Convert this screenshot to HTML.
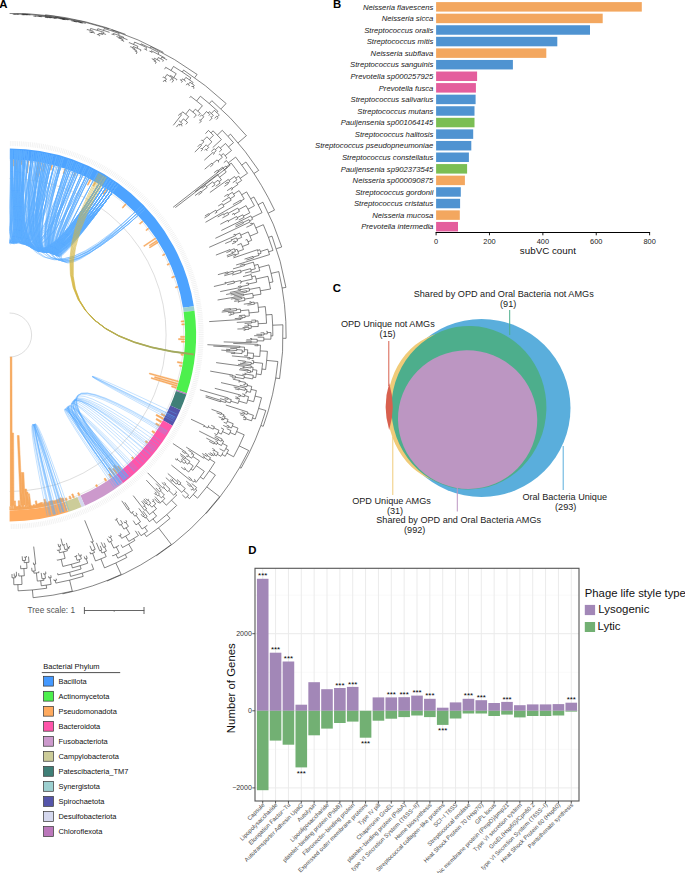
<!DOCTYPE html>
<html><head><meta charset="utf-8"><style>html,body{margin:0;padding:0;background:#fff;}svg{display:block;}</style></head><body><svg width="685" height="873" viewBox="0 0 685 873" font-family='"Liberation Sans", sans-serif'>
<defs><clipPath id="clipA"><rect x="9.6" y="0" width="330" height="620"/></clipPath></defs>
<rect width="685" height="873" fill="#fff"/>
<g clip-path="url(#clipA)">
<path d="M22.2 14.0L22.2 14.3M16.4 14.1L16.4 14.3M14.2 14.2L14.2 14.3M12.8 14.3L12.8 14.3M15.7 14.3L15.7 14.3M18.7 14.3L18.7 14.4M27.9 14.5L27.9 14.7M25.3 14.6L25.3 14.6M23.1 14.5L23.1 14.8M21.6 14.7L21.6 14.7M24.5 14.8L24.5 14.9M27.5 14.8L27.5 14.8M30.4 14.9L30.4 14.9M68.5 19.2L68.5 19.5M55.1 17.3L55.1 17.6M44.9 16.3L44.9 16.7M37.8 16.0L37.7 16.2M34.8 16.0L34.8 16.2M33.3 16.1L33.3 16.1M36.2 16.3L36.2 16.3M40.7 16.5L40.6 16.6M39.2 16.5L39.2 16.5M42.1 16.7L42.1 16.8M52.0 17.5L52.0 17.7M48.7 17.3L48.7 17.6M46.5 17.3L46.5 17.5M45.0 17.4L45.0 17.5M47.9 17.7L47.9 17.7M50.9 17.8L50.9 18.0M55.3 18.2L55.3 18.3M53.8 18.1L53.8 18.2M56.7 18.6L56.7 18.6M65.2 19.2L65.2 19.3M61.9 18.7L61.9 19.0M59.7 18.7L59.7 18.7M64.0 19.4L64.0 19.5M62.6 19.2L62.6 19.2M65.5 19.7L65.5 19.7M68.4 19.9L68.4 19.9M81.7 22.2L81.7 22.4M77.5 21.5L77.5 21.8M73.5 20.9L73.4 21.2M71.3 20.8L71.3 20.8M75.6 21.6L75.6 21.7M74.1 21.4L74.1 21.4M77.0 22.0L77.0 22.0M81.4 22.6L81.4 22.8M79.9 22.5L79.9 22.6M82.8 23.2L82.8 23.2M85.8 23.4L85.8 23.4M104.2 28.5L103.6 30.5M97.8 28.7L97.3 30.4M90.6 28.5L90.2 30.3M87.2 29.5L87.0 30.1M93.2 31.1L92.8 32.4M90.8 31.9L90.7 32.3M89.4 31.9L89.4 32.0M92.0 32.6L91.9 33.0M94.8 33.0L94.7 33.4M103.9 32.3L103.5 33.6M101.2 32.9L100.9 34.0M98.9 33.4L98.5 34.9M97.2 34.5L97.1 34.9M99.8 35.3L99.5 36.2M102.9 34.6L102.8 34.9M105.8 34.4L105.8 34.6M109.4 32.3L109.3 32.5M119.2 33.6L118.6 35.3M113.4 33.5L113.1 34.4M111.8 34.0L111.7 34.3M114.4 34.9L114.3 35.1M123.7 37.2L123.4 38.1M119.3 36.6L119.0 37.4M116.7 36.6L116.6 37.0M121.3 38.3L121.1 38.9M119.1 38.1L118.9 38.6M123.0 39.6L122.6 40.6M121.3 40.1L121.2 40.3M123.9 41.1L123.7 41.6M127.4 39.7L127.4 39.8M141.1 43.8L140.7 44.8M134.6 42.1L133.6 44.5M129.2 42.6L129.0 43.1M137.9 46.4L137.1 48.2M133.2 46.5L132.7 47.6M130.5 46.7L130.3 47.2M134.9 48.6L134.5 49.5M132.6 48.7L132.5 48.9M136.4 50.3L135.9 51.3M134.7 50.8L134.6 50.9M137.1 51.9L136.2 54.0M141.0 49.9L140.4 51.3M146.7 47.6L145.8 49.5M144.5 48.9L144.3 49.3M147.0 50.1L146.8 50.5M159.0 52.5L158.1 54.2M151.3 50.8L150.9 51.7M149.6 51.1L149.4 51.4M152.1 52.3L151.9 52.8M164.7 57.8L164.4 58.4M161.9 57.0L160.9 58.9M158.3 57.5L157.2 59.7M154.4 58.2L153.7 59.7M151.9 58.7L151.8 58.9M155.5 60.6L155.1 61.4M153.9 60.8L153.7 61.1M156.2 62.1L155.4 63.7M159.9 61.1L159.8 61.3M163.4 60.3L162.7 61.7M166.9 59.8L166.7 60.1M173.5 66.4L171.0 70.5M165.7 67.3L164.6 69.2M176.2 73.7L173.8 77.6M170.6 75.5L170.0 76.4M166.9 74.5L164.8 77.9M163.2 76.9L162.8 77.5M166.5 78.9L165.2 81.0M164.1 80.4L163.2 81.9M166.3 81.7L166.2 81.9M173.1 78.3L172.5 79.3M171.4 78.6L170.2 80.5M173.6 80.0L172.0 82.5M177.0 79.6L176.6 80.3M190.9 77.9L189.5 79.9M185.8 77.4L184.0 80.0M182.4 78.9L181.3 80.5M180.2 79.7L180.0 80.0M182.4 81.2L181.4 82.6M185.7 81.2L185.5 81.4M193.1 82.5L192.1 83.8M189.9 82.2L188.3 84.4M187.3 83.6L186.2 85.2M189.4 85.2L188.8 86.1M194.3 85.4L193.1 87.0M192.1 86.2L191.4 87.0M194.2 87.8L193.5 88.7M200.4 96.2L196.6 101.0M190.7 96.4L189.6 97.8M202.4 105.7L197.8 111.2M195.3 109.2L192.9 112.1M189.5 109.3L185.7 114.2M182.6 111.8L180.7 114.2M180.0 113.6L178.4 115.7M181.5 114.8L173.3 125.3M188.7 116.7L185.5 120.6M183.4 118.9L180.7 122.2M179.1 120.9L179.0 121.0M182.3 123.5L181.2 124.9M180.1 124.0L179.3 125.0M178.6 124.4L176.4 127.1M180.1 125.5L179.9 125.7M182.2 125.8L181.9 126.2M187.6 122.3L185.8 124.4M196.3 114.9L193.9 117.8M200.3 113.3L198.2 115.7M217.9 111.3L216.8 112.6M214.3 110.3L211.3 113.5M209.4 111.7L208.2 113.0M206.5 111.5L202.7 115.8M201.5 114.9L200.0 116.6M203.8 116.8L200.7 120.3M200.0 119.6L199.2 120.4M201.4 120.9L199.4 123.2M209.8 114.6L208.8 115.7M213.3 115.3L211.4 117.3M210.7 116.6L210.4 116.9M212.2 118.0L209.5 120.8M219.3 114.9L217.3 116.9M216.6 116.2L214.7 118.3M218.1 117.7L216.2 119.6M222.3 130.3L217.3 135.1M213.1 130.8L211.0 132.9M208.5 130.4L205.4 133.7M213.5 135.4L209.4 139.3M206.9 136.8L202.9 140.9M201.9 139.9L201.1 140.7M203.8 141.9L200.7 145.0M200.1 144.3L197.7 146.8M201.4 145.6L194.8 152.1M211.9 141.9L207.5 146.1M206.2 144.8L202.0 148.9M201.3 148.2L200.5 149.0M202.6 149.5L200.9 151.2M208.7 147.5L206.3 149.7M205.7 149.1L204.5 150.2M207.0 150.4L206.4 151.0M221.4 139.6L212.7 147.6M233.5 142.7L228.5 146.9M225.5 143.5L220.3 148.1M218.8 146.5L215.3 149.7M214.3 148.7L211.2 151.5M216.2 150.8L213.7 153.0M213.0 152.4L204.3 160.2M214.3 153.7L213.3 154.6M221.7 149.7L219.2 151.9M231.5 150.5L225.1 155.7M223.4 153.6L221.0 155.6M219.6 154.0L218.8 154.7M222.4 157.3L218.0 160.9M217.1 159.9L212.4 163.8M211.9 163.1L204.7 169.2M213.0 164.5L210.3 166.8M218.9 162.0L218.4 162.4M226.9 157.8L225.7 158.8M235.6 157.1L228.3 162.9M226.4 160.6L223.8 162.7M230.1 165.2L224.4 169.6M222.5 167.2L218.0 170.7M217.4 170.1L214.1 172.7M218.5 171.4L216.7 172.8M226.2 172.1L219.5 177.2M217.4 174.5L194.9 191.8M221.5 179.9L219.1 181.6M218.0 180.2L213.9 183.3M212.7 181.8L206.5 186.5M205.8 185.5L201.7 188.6M207.2 187.4L201.4 191.8M200.9 191.2L195.0 195.6M201.8 192.4L198.5 194.9M215.0 184.8L211.8 187.0M220.1 183.1L215.7 186.3M247.5 173.3L240.2 178.3M238.7 176.2L235.8 178.2M234.6 176.5L229.0 180.5M228.3 179.4L209.9 192.5M229.8 181.5L227.8 183.0M227.3 182.2L225.1 183.8M228.3 183.7L224.4 186.3M236.9 179.9L232.8 182.7M241.6 180.5L237.1 183.5M236.3 182.4L235.8 182.8M237.8 184.6L232.3 188.3M231.8 187.6L227.1 190.7M232.8 189.0L230.9 190.2M253.9 197.0L250.6 198.8M246.6 191.9L241.7 194.8M239.1 190.6L233.5 194.1M232.4 192.3L228.1 195.1M227.6 194.4L224.3 196.5M228.5 195.8L227.3 196.5M234.7 196.0L230.2 198.7M229.3 197.2L222.2 201.7M231.2 200.2L223.1 205.1M222.2 203.6L218.2 206.0M224.0 206.6L216.4 211.2M215.8 210.2L209.0 214.3M208.6 213.7L204.9 216.0M209.4 214.9L204.5 217.9M217.0 212.2L214.9 213.4M244.2 199.1L240.8 201.0M240.4 200.3L232.9 204.6M241.3 201.7L205.5 222.3M254.4 205.8L248.0 209.2M246.1 205.6L238.6 209.7M237.7 208.1L228.1 213.4M227.5 212.4L223.8 214.5M223.4 213.8L217.7 217.0M224.2 215.2L223.9 215.3M228.7 214.5L222.4 217.9M239.5 211.3L234.4 214.1M234.0 213.4L232.0 214.5M234.7 214.8L234.2 215.1M249.8 212.8L243.4 216.1M242.8 214.8L237.3 217.6M236.7 216.5L228.2 221.0M227.8 220.3L220.3 224.3M228.6 221.7L227.9 222.0M237.9 218.7L235.5 219.9M244.1 217.4L238.8 220.0M262.1 212.6L251.8 217.6M250.9 215.9L221.3 230.5M252.6 219.3L249.6 220.8M249.1 219.6L243.0 222.5M242.6 221.8L235.4 225.3M243.3 223.3L235.5 227.0M250.1 221.9L215.4 238.3M263.3 224.7L255.8 227.9M253.6 223.1L251.9 223.9M251.6 223.1L250.1 223.8M252.3 224.6L246.4 227.3M257.9 232.8L250.0 236.1M248.2 231.9L240.7 235.2M239.8 233.0L235.4 234.9M235.0 234.2L233.4 234.9M235.7 235.6L209.2 247.3M241.7 237.4L237.0 239.3M236.4 237.9L231.6 239.9M231.3 239.2L231.1 239.3M231.9 240.7L225.2 243.5M237.6 240.8L235.2 241.8M234.9 241.0L233.0 241.8M235.5 242.5L232.0 243.9M251.7 240.3L248.0 241.8M247.1 239.5L245.5 240.1M248.9 244.0L242.4 246.5M241.2 243.5L237.3 245.1M243.5 249.5L237.9 251.5M237.1 249.3L234.9 250.2M234.3 248.7L230.3 250.3M230.0 249.6L215.9 255.1M230.6 251.0L226.4 252.6M235.4 251.6L232.8 252.5M232.6 251.8L231.3 252.3M233.1 253.2L226.8 255.6M238.7 253.7L235.4 254.8M235.1 254.1L227.1 257.0M235.6 255.6L233.3 256.4M273.0 250.4L268.6 251.9M267.7 249.1L260.5 251.5M259.9 249.7L257.7 250.4M257.5 249.7L233.4 257.9M258.0 251.2L257.5 251.4M261.0 253.3L258.7 254.1M258.3 252.9L257.6 253.1M259.0 255.3L253.2 257.1M253.0 256.4L244.5 259.1M253.5 257.9L246.4 260.1M269.5 254.6L236.1 265.0M268.9 264.9L258.9 267.6M258.0 264.4L254.3 265.4M253.4 262.1L244.4 264.8M244.2 264.0L239.9 265.4M244.6 265.5L233.0 268.9M255.3 268.8L250.9 270.0M250.6 268.6L240.8 271.3M240.4 270.1L233.1 272.2M232.8 271.2L227.9 272.6M227.7 271.9L217.9 274.7M228.1 273.2L224.5 274.2M233.4 273.2L224.3 275.7M241.1 272.5L232.1 275.0M251.3 271.4L245.0 273.0M259.8 270.8L250.7 273.1M273.0 281.9L269.3 282.7M268.0 276.3L256.0 279.0M255.3 275.9L251.8 276.8M251.2 274.5L243.0 276.6M252.3 279.1L240.9 281.7M240.6 280.5L234.2 282.0M234.0 281.0L225.9 282.9M225.7 282.3L224.6 282.6M226.0 283.6L213.9 286.5M234.4 283.0L227.1 284.7M241.2 282.9L239.9 283.2M256.7 282.2L248.3 284.0M248.1 282.9L245.9 283.4M248.6 285.0L241.2 286.6M241.0 285.9L237.9 286.6M241.3 287.3L220.2 291.6M270.5 289.0L260.4 290.8M259.8 287.4L249.3 289.4M249.0 288.0L240.4 289.7M240.3 289.0L237.8 289.5M240.5 290.4L229.9 292.4M249.6 290.9L246.7 291.4M246.5 290.7L226.1 294.5M246.8 292.1L230.7 295.0M261.0 294.2L253.0 295.5M252.6 293.3L243.6 294.9M243.5 294.2L233.7 295.9M243.7 295.6L217.6 300.0M253.3 297.7L244.7 299.1M244.4 297.6L241.5 298.1M241.4 297.4L230.9 299.1M241.6 298.8L234.6 299.9M244.9 300.5L238.9 301.4M238.8 300.7L234.2 301.4M239.0 302.0L237.9 302.2M272.0 314.5L266.0 314.9M265.3 306.6L258.3 307.4M257.7 302.7L254.3 303.2M254.1 302.1L251.1 302.5M251.0 301.8L249.2 302.0M251.2 303.2L243.8 304.2M254.4 304.2L247.4 305.1M258.7 312.0L249.1 312.9M248.8 309.9L240.5 310.7M240.3 309.1L236.5 309.5M236.4 308.5L230.4 309.2M230.3 308.6L224.1 309.3M230.5 309.8L222.5 310.7M236.6 310.5L221.7 312.1M240.7 312.4L233.8 313.1M233.7 312.1L227.9 312.7M233.9 314.1L231.1 314.3M231.0 313.7L230.5 313.7M231.1 315.0L228.8 315.2M249.3 316.0L245.1 316.3M245.0 315.1L239.0 315.6M245.1 317.5L242.1 317.7M242.0 316.7L238.6 317.0M242.1 318.7L240.5 318.9M240.5 318.2L234.8 318.6M240.5 319.5L209.2 321.6M266.6 323.3L258.2 323.7M258.0 320.9L255.7 321.0M255.6 320.0L251.3 320.2M255.7 322.1L251.6 322.3M251.6 321.6L236.8 322.4M251.7 323.0L244.6 323.4M258.3 326.5L251.2 326.7M251.1 325.2L248.6 325.3M248.6 324.6L247.4 324.6M248.6 326.0L244.3 326.1M251.2 328.3L248.9 328.4M248.8 327.3L242.6 327.5M248.9 329.4L245.2 329.5M245.2 328.8L237.4 329.0M245.2 330.2L243.6 330.2M272.9 335.9L270.9 335.9M270.9 332.5L267.3 332.6M267.2 331.3L266.4 331.3M267.3 333.9L264.0 333.9M264.0 332.8L260.6 332.8M264.0 335.0L261.4 335.0M261.4 334.3L256.4 334.3M261.4 335.7L254.1 335.7M270.9 339.2L263.8 339.1M263.8 337.2L257.7 337.2M263.8 340.9L257.2 340.8M257.2 339.3L251.6 339.2M251.6 338.5L250.1 338.5M251.6 339.9L246.4 339.8M257.2 342.2L251.2 342.0M251.2 341.3L245.8 341.2M251.2 342.7L223.7 341.9M267.4 351.3L260.2 350.9M260.5 345.2L257.9 345.1M257.9 344.4L233.2 343.4M257.9 345.8L254.5 345.6M259.7 356.5L253.4 356.0M253.6 353.3L247.5 352.9M247.7 349.8L244.4 349.6M244.5 347.2L239.9 346.9M239.9 346.3L207.4 344.7M239.8 347.6L213.3 346.1M244.2 351.9L242.1 351.8M242.3 350.0L236.8 349.6M236.9 348.7L230.2 348.3M236.8 350.6L229.7 350.1M229.7 349.5L226.1 349.3M229.6 350.7L221.3 350.1M242.0 353.6L234.6 353.0M234.7 352.4L226.1 351.7M234.6 353.6L230.9 353.3M247.3 356.0L244.2 355.7M253.1 358.6L250.0 358.3M250.1 357.6L231.9 355.9M250.0 359.0L247.2 358.7M265.6 369.5L261.9 369.0M262.6 363.3L253.5 362.3M253.7 360.7L251.7 360.5M253.4 363.8L251.2 363.6M251.3 362.5L245.3 361.9M245.4 361.2L237.8 360.3M245.2 362.5L242.5 362.2M251.1 364.6L239.9 363.2M261.1 374.7L256.3 373.9M256.9 370.2L252.8 369.6M253.1 367.3L251.2 367.0M251.3 366.0L238.0 364.3M251.0 368.0L244.0 367.1M244.1 366.4L216.1 362.6M244.0 367.7L242.5 367.5M252.4 372.0L250.4 371.7M250.6 370.7L248.1 370.3M248.2 369.7L240.1 368.5M248.0 371.0L239.1 369.7M250.3 372.7L246.6 372.2M255.7 377.6L253.0 377.1M253.3 375.3L245.8 374.1M245.9 373.4L244.4 373.2M245.7 374.7L242.3 374.2M252.6 378.9L244.1 377.4M244.4 375.9L235.7 374.4M243.8 378.8L235.4 377.2M235.6 376.3L232.7 375.8M232.8 375.1L210.2 371.1M232.5 376.4L229.5 375.8M235.2 378.2L231.9 377.6M261.5 397.7L255.1 396.1M256.4 390.6L251.1 389.4M251.7 386.4L247.2 385.4M247.5 384.1L245.2 383.6M245.4 382.4L239.8 381.3M239.9 380.6L232.9 379.2M239.6 382.1L238.3 381.8M244.9 384.8L243.4 384.4M247.0 386.8L239.8 385.3M250.4 392.3L246.7 391.4M247.1 389.7L245.2 389.3M245.5 388.1L221.0 382.6M244.9 390.4L239.1 389.0M239.2 388.3L233.7 387.0M238.9 389.8L234.9 388.8M246.2 393.2L245.1 392.9M253.6 401.7L247.7 400.0M248.6 396.7L244.6 395.6M244.9 394.5L242.2 393.8M244.3 396.8L240.3 395.7M240.5 395.0L214.8 388.3M240.1 396.5L238.0 395.9M246.7 403.4L238.8 401.1M239.4 398.7L237.8 398.3M238.0 397.5L235.4 396.8M237.5 399.0L235.4 398.4M238.1 403.4L230.8 401.2M231.3 399.6L227.9 398.6M228.1 397.9L199.9 389.8M227.7 399.4L224.5 398.4M230.3 402.9L225.8 401.5M226.1 400.4L220.1 398.6M225.5 402.5L220.7 401.1M220.9 400.4L205.7 395.6M220.5 401.8L205.6 397.0M255.3 419.0L252.5 418.0M253.4 415.3L247.5 413.3M247.9 412.1L225.8 405.0M247.1 414.5L244.4 413.6M244.6 412.8L241.7 411.8M244.1 414.3L239.5 412.8M251.5 420.8L245.7 418.8M246.1 417.6L244.4 417.0M244.6 416.2L240.3 414.7M244.1 417.8L243.4 417.5M245.3 419.9L243.2 419.2M244.2 434.8L236.6 431.5M238.0 428.2L232.3 425.9M233.2 423.7L227.3 421.4M228.1 419.4L224.5 418.1M225.2 416.4L223.5 415.8M223.9 414.7L221.4 413.7M221.7 413.0L211.5 409.3M221.2 414.5L216.6 412.8M223.1 416.9L222.5 416.7M223.9 419.7L222.8 419.3M223.1 418.6L218.6 416.8M222.5 420.0L221.0 419.4M226.5 423.4L223.7 422.2M231.4 428.0L228.8 426.9M229.1 426.1L226.6 425.1M228.4 427.6L223.2 425.4M235.2 434.8L230.0 432.5M230.9 430.5L226.8 428.7M229.1 434.6L222.5 431.6M223.6 429.1L221.0 427.9M221.3 434.1L218.0 432.5M219.0 430.3L213.9 427.9M214.4 426.7L211.2 425.3M213.3 429.2L208.3 426.8M208.7 425.8L208.2 425.6M207.8 427.9L204.3 426.2M204.6 425.6L191.0 419.2M204.0 426.9L203.4 426.6M216.9 434.8L214.4 433.5M233.6 456.8L226.9 453.2M228.6 450.0L225.8 448.6M227.2 445.8L222.5 443.4M223.6 441.2L221.7 440.2M222.2 439.1L214.9 435.5M221.2 441.3L218.2 439.8M218.5 439.1L214.5 437.1M217.8 440.5L199.2 431.1M221.4 445.5L217.1 443.3M217.7 442.3L215.4 441.1M216.6 444.4L214.5 443.3M214.8 442.6L206.3 438.1M214.1 444.0L209.2 441.4M224.3 451.3L219.6 448.8M225.2 456.3L222.0 454.4M223.0 452.5L222.7 452.4M220.9 456.3L217.3 454.3M218.2 452.7L214.0 450.3M214.4 449.6L212.3 448.4M213.6 451.0L212.6 450.5M216.4 455.9L214.3 454.7M214.9 453.6L213.1 452.6M213.7 455.7L212.4 455.0M212.8 454.3L209.9 452.6M212.0 455.7L208.4 453.5M215.4 475.0L209.3 470.8M214.9 462.3L209.7 459.1M210.6 457.7L207.2 455.6M207.6 454.9L205.0 453.3M206.8 456.3L202.2 453.5M208.8 460.5L204.1 457.5M204.5 456.8L202.9 455.8M203.7 458.2L186.2 447.1M203.4 479.2L200.3 476.9M204.3 471.3L196.3 465.7M199.5 460.9L192.8 456.5M193.9 454.7L192.2 453.6M192.6 452.9L188.4 450.2M191.8 454.2L191.1 453.7M191.6 458.2L188.0 455.8M188.6 454.8L185.6 452.8M186.0 452.2L172.9 443.5M185.2 453.5L181.9 451.2M187.4 456.7L186.1 455.9M192.9 470.3L191.0 468.9M193.2 465.9L188.9 462.7M189.9 461.3L185.2 458.0M185.6 457.4L180.1 453.5M184.8 458.6L180.6 455.6M187.8 464.2L185.2 462.3M185.9 461.2L181.9 458.3M184.4 463.4L181.7 461.4M182.3 460.5L180.9 459.4M181.0 462.3L177.2 459.5M177.7 458.9L176.9 458.4M176.8 460.1L175.0 458.7M188.7 472.0L184.9 469.0M185.3 468.4L184.2 467.5M184.4 469.6L181.2 467.2M196.2 482.3L194.6 481.1M195.4 480.2L194.2 479.2M193.9 482.1L190.9 479.8M191.4 479.1L188.5 476.8M190.4 480.4L171.4 465.1M197.5 498.2L193.2 494.4M196.8 490.2L195.4 489.0M196.6 487.5L191.7 483.5M194.2 490.5L192.7 489.2M193.5 488.2L190.7 485.9M191.2 485.3L186.2 481.1M190.2 486.5L187.2 484.0M191.9 490.1L190.7 489.2M189.5 498.6L187.2 496.5M188.6 494.9L183.6 490.5M185.3 488.6L180.0 483.9M180.9 482.9L177.0 479.5M179.1 485.0L177.1 483.2M177.9 482.3L167.8 473.5M176.4 484.1L172.6 480.7M173.1 480.1L171.6 478.9M172.1 481.3L170.1 479.5M181.9 492.4L165.8 477.6M185.7 498.1L182.3 494.9M170.0 518.3L166.8 514.6M176.7 505.4L171.5 500.2M176.7 495.0L175.2 493.6M176.7 492.0L175.6 491.0M173.7 495.2L168.8 490.4M170.0 489.2L165.2 484.6M165.7 484.0L163.8 482.1M164.6 485.2L161.8 482.5M167.6 491.6L163.7 487.7M164.3 487.2L163.4 486.3M163.1 488.3L147.6 472.8M166.3 505.2L162.3 500.9M164.8 498.6L162.9 496.5M164.4 495.0L160.4 490.9M161.3 490.0L159.7 488.4M160.3 487.9L156.1 483.6M159.1 489.0L159.0 488.9M159.5 491.8L155.8 487.9M161.3 497.9L158.6 495.0M159.5 494.2L146.3 480.1M157.7 495.9L155.8 493.8M156.4 493.3L155.0 491.8M155.2 494.4L154.3 493.4M159.8 503.3L158.8 502.1M159.4 501.6L155.0 496.6M158.1 502.7L154.5 498.6M156.4 523.2L153.0 518.9M156.6 516.1L153.0 511.7M156.5 508.8L153.8 505.5M155.7 503.9L153.2 500.9M153.8 500.4L152.7 499.1M152.6 501.5L152.1 500.9M151.8 507.2L149.4 504.3M150.7 503.2L147.9 499.8M148.5 499.3L148.3 499.0M147.3 500.3L145.7 498.5M148.1 505.3L146.6 503.4M147.3 502.9L143.9 498.9M146.0 504.0L143.1 500.4M149.5 514.5L145.7 509.7M146.7 508.9L144.4 505.9M145.0 505.4L141.6 501.2M143.7 506.5L143.2 505.8M144.7 510.4L133.2 495.6M149.4 521.7L146.1 517.3M147.2 516.5L143.0 511.1M145.1 518.1L143.7 516.3M144.4 515.7L138.8 508.3M143.0 516.8L141.0 514.1M146.4 536.6L144.3 533.5M147.5 531.3L144.7 527.2M147.2 525.5L147.1 525.3M142.1 529.0L138.3 523.3M140.5 521.8L136.0 515.4M137.2 514.5L135.9 512.7M134.8 516.2L132.2 512.5M133.3 511.8L132.7 511.0M131.2 513.2L128.5 509.2M129.2 508.8L124.8 502.4M127.8 509.7L121.8 500.8M136.0 524.9L133.2 520.6M141.0 535.7L138.1 531.2M126.8 557.5L125.2 554.5M132.4 550.5L128.7 544.1M134.8 540.5L133.6 538.5M138.4 535.6L135.3 530.8M128.8 541.4L125.7 536.1M129.7 533.7L126.1 527.8M128.4 526.4L125.9 522.4M126.8 521.8L125.8 520.1M124.9 523.0L124.0 521.5M123.9 529.1L121.2 524.5M122.6 523.6L120.5 520.1M119.7 525.3L116.4 519.6M117.3 519.1L116.6 517.9M115.4 520.2L115.2 519.7M121.7 538.3L120.1 535.5M121.2 535.0L120.4 533.5M119.1 536.1L118.7 535.4M122.5 547.5L121.0 544.7M117.8 558.2L116.0 554.4M119.2 552.8L116.3 546.9M118.7 545.7L118.5 545.3M113.8 548.1L110.6 541.5M112.2 540.7L110.4 537.1M111.4 536.6L110.7 535.3M109.3 537.6L108.7 536.4M109.0 542.3L107.2 538.7M112.7 555.9L112.4 555.2M104.5 567.9L100.9 558.9M106.2 556.6L104.2 552.0M106.4 551.1L104.6 546.9M105.7 546.5L104.0 542.8M103.5 547.4L101.2 542.3M101.9 553.0L100.8 550.3M101.9 549.9L100.2 545.8M99.7 550.8L96.4 542.8M95.5 561.0L92.6 553.2M94.5 552.5L93.5 550.0M95.2 549.3L92.2 541.9M93.3 541.5L84.7 520.3M91.2 542.3L90.8 541.3M91.9 550.6L90.0 545.8M90.6 554.0L89.9 552.0M83.2 576.4L82.2 573.2M93.6 569.4L91.6 563.7M70.6 576.4L69.6 572.2M81.1 569.0L80.1 565.7M87.7 563.2L86.2 558.7M87.2 558.4L86.3 555.6M85.1 559.1L84.2 556.5M72.4 567.9L71.4 564.3M79.9 561.8L79.2 559.6M81.4 558.9L80.4 555.7M81.4 555.4L81.1 554.4M79.3 556.1L78.4 553.3M77.0 560.3L75.9 556.3M76.9 556.0L76.7 555.1M74.8 556.6L74.6 556.1M62.8 566.4L61.2 559.3M65.1 558.4L63.5 551.8M67.4 550.8L67.0 549.1M69.0 548.5L68.7 547.3M69.7 547.0L69.5 546.1M67.7 547.6L66.4 542.9M64.9 549.6L63.7 544.9M64.7 544.6L64.6 544.2M62.6 545.1L61.0 538.6M59.5 552.8L58.9 550.1M60.5 549.7L59.7 546.3M60.7 546.1L60.3 544.3M58.7 546.6L58.1 543.9M57.4 550.4L57.2 549.8M57.2 560.2L57.1 559.7M57.9 574.9L57.6 573.2M55.8 583.1L55.3 580.4M56.5 580.2L56.2 578.7M54.1 580.7L53.9 579.3M46.7 588.3L46.2 585.1M51.1 584.3L50.1 577.7M51.2 577.6L50.8 575.2M48.9 577.9L48.6 576.2M41.3 585.8L40.7 580.7M44.0 580.3L43.7 578.6M45.5 578.3L44.8 574.0M45.9 573.8L45.6 571.6M43.7 574.2L43.6 573.2M42.0 578.8L41.2 572.9M37.3 581.1L36.4 572.9M38.9 572.6L38.8 571.3M33.9 573.2L33.7 571.0M35.3 570.8L34.6 564.3M35.7 564.1L33.7 546.6M33.5 564.4L33.4 562.6M32.0 571.2L31.7 567.8M18.1 590.8L17.9 584.6M22.0 584.4L21.6 575.9M24.3 575.8L23.9 568.5M27.0 568.3L26.6 562.5M29.0 562.3L28.5 556.6M24.2 562.6L24.1 560.4M25.6 560.3L25.4 557.2M26.5 557.1L26.4 556.0M24.4 557.2L24.3 556.9M22.5 560.5L22.2 556.3M20.7 568.7L20.6 565.5M18.8 576.0L18.7 573.2M13.8 584.7L13.7 577.8M15.4 577.7L15.4 576.2M16.5 576.2L16.4 571.8M14.3 576.2L14.2 573.5M12.0 577.8L12.0 574.0M72.3 591.2L69.6 580.1M33.1 597.7L32.4 589.9M121.2 574.5L115.8 563.0M62.7 593.8L62.6 593.4M171.3 544.5L158.5 527.8M107.2 581.0L107.0 580.6M219.6 496.7L206.8 486.9M156.5 555.6L156.3 555.3M248.7 450.5L239.2 445.9M206.0 513.6L205.7 513.4M265.8 410.5L258.6 408.4M241.1 468.2L239.7 467.4M277.9 361.5L266.7 360.4M263.2 426.3L260.9 425.5M282.9 324.8L272.7 325.2M279.6 378.6L275.7 378.0M278.8 271.6L271.1 273.4M286.1 338.3L283.1 338.3M272.0 236.1L268.5 237.4M285.9 287.4L282.1 288.0M262.9 202.2L258.1 204.7M281.7 247.0L276.4 248.7M245.9 162.0L241.7 165.1M274.5 210.1L268.3 213.1M230.5 134.1L228.0 136.4M258.7 170.4L253.9 173.5M211.8 100.7L209.3 103.6M246.4 135.7L238.1 142.8M183.6 70.1L182.3 72.0M226.1 103.5L221.0 108.9M150.7 46.7L150.1 48.0M197.1 74.4L194.7 77.7M112.1 30.0L111.7 30.9M163.1 52.2L162.8 52.9M45.5 14.8L45.4 15.8M125.3 34.3L125.2 34.7M225.9 166.0L173.1 207.3M227.2 167.7L175.3 207.6M231.2 163.1L226.5 166.8M12.75 14.27A320.74 320.74 0 0 1 15.70 14.31M14.23 14.23A320.80 320.80 0 0 1 18.65 14.33M21.59 14.70A320.52 320.52 0 0 1 24.54 14.83M23.07 14.55A320.73 320.73 0 0 1 27.49 14.77M25.29 14.57A320.82 320.82 0 0 1 30.44 14.86M16.45 14.09A320.99 320.99 0 0 1 27.88 14.53M33.31 16.07A319.81 319.81 0 0 1 36.24 16.30M39.18 16.46A319.91 319.91 0 0 1 42.11 16.74M34.80 15.95A320.04 320.04 0 0 1 40.66 16.47M45 17.36A319.61 319.61 0 0 1 47.92 17.70M46.49 17.30A319.83 319.83 0 0 1 50.87 17.84M53.80 18.14A319.93 319.93 0 0 1 56.71 18.56M48.71 17.32A320.08 320.08 0 0 1 55.27 18.19M37.75 15.95A320.29 320.29 0 0 1 52.02 17.53M62.57 19.21A320.21 320.21 0 0 1 65.47 19.71M59.67 18.66A320.28 320.28 0 0 1 64.03 19.38M61.90 18.75A320.55 320.55 0 0 1 68.43 19.90M44.93 16.33A320.62 320.62 0 0 1 65.18 19.23M74.14 21.38A320.19 320.19 0 0 1 77.02 21.99M71.26 20.75A320.24 320.24 0 0 1 75.59 21.63M79.92 22.52A320.30 320.30 0 0 1 82.79 23.18M73.48 20.92A320.51 320.51 0 0 1 81.41 22.64M77.51 21.46A320.82 320.82 0 0 1 85.78 23.36M55.13 17.28A320.96 320.96 0 0 1 81.69 22.24M22.17 14.05A321.20 321.20 0 0 1 68.50 19.25M89.39 31.94A313.39 313.39 0 0 1 92.03 32.64M90.81 31.91A313.78 313.78 0 0 1 94.77 33M87.18 29.55A315.15 315.15 0 0 1 93.16 31.13M97.19 34.48A313.02 313.02 0 0 1 99.81 35.26M98.95 33.37A314.59 314.59 0 0 1 102.89 34.56M101.23 32.94A315.65 315.65 0 0 1 105.83 34.38M90.65 28.51A317.02 317.02 0 0 1 103.94 32.34M97.79 28.71A318.73 318.73 0 0 1 109.41 32.30M111.79 33.96A317.91 317.91 0 0 1 114.41 34.86M121.32 40.11A315.34 315.34 0 0 1 123.89 41.10M119.12 38.13A316.42 316.42 0 0 1 123 39.59M116.73 36.62A317.03 317.03 0 0 1 121.27 38.29M119.32 36.58A317.95 317.95 0 0 1 127.42 39.68M113.42 33.48A318.89 318.89 0 0 1 123.72 37.22M104.22 28.52A320.75 320.75 0 0 1 119.22 33.56M134.65 50.80A310.50 310.50 0 0 1 137.13 51.90M132.62 48.67A311.64 311.64 0 0 1 136.35 50.31M130.50 46.68A312.64 312.64 0 0 1 134.89 48.56M133.19 46.47A313.89 313.89 0 0 1 141.01 49.94M129.21 42.63A315.89 315.89 0 0 1 137.93 46.35M144.54 48.88A316.35 316.35 0 0 1 147.03 50.07M134.59 42.11A318.45 318.45 0 0 1 146.70 47.57M149.62 51.06A316.59 316.59 0 0 1 152.10 52.29M153.86 60.81A309.82 309.82 0 0 1 156.25 62.08M151.89 58.72A310.77 310.77 0 0 1 155.50 60.61M154.45 58.22A312.39 312.39 0 0 1 159.86 61.12M158.31 57.51A314.83 314.83 0 0 1 163.43 60.31M161.90 57.04A316.95 316.95 0 0 1 166.88 59.82M151.32 50.76A317.61 317.61 0 0 1 164.72 57.84M141.11 43.80A319.52 319.52 0 0 1 158.95 52.53M164.12 80.36A297.85 297.85 0 0 1 166.33 81.72M163.15 76.90A300.32 300.32 0 0 1 166.52 78.93M171.38 78.60A303.17 303.17 0 0 1 173.61 80.02M166.91 74.47A304.34 304.34 0 0 1 173.12 78.32M170.56 75.53A305.34 305.34 0 0 1 177.01 79.65M165.71 67.31A309.88 309.88 0 0 1 176.24 73.74M180.16 79.73A307.01 307.01 0 0 1 182.39 81.23M182.35 78.88A308.94 308.94 0 0 1 185.69 81.16M187.25 83.63A307.81 307.81 0 0 1 189.44 85.19M192.06 86.16A308.57 308.57 0 0 1 194.23 87.76M189.93 82.19A310.54 310.54 0 0 1 194.31 85.37M185.85 77.36A312.16 312.16 0 0 1 193.08 82.46M173.48 66.42A314.64 314.64 0 0 1 190.91 77.86M179.98 113.62A279.35 279.35 0 0 1 181.48 114.79M178.63 124.39A270.05 270.05 0 0 1 180.06 125.54M180.10 124.03A271.25 271.25 0 0 1 182.24 125.78M179.09 120.86A273.10 273.10 0 0 1 182.34 123.47M183.37 118.86A277.33 277.33 0 0 1 187.56 122.29M182.59 111.80A282.39 282.39 0 0 1 188.68 116.65M189.53 109.34A288.61 288.61 0 0 1 196.29 114.90M195.35 109.16A292.41 292.41 0 0 1 200.26 113.29M190.69 96.38A299.56 299.56 0 0 1 202.41 105.75M199.96 119.63A287.44 287.44 0 0 1 201.41 120.93M201.53 114.85A292.07 292.07 0 0 1 203.77 116.82M206.45 111.52A297.81 297.81 0 0 1 209.84 114.55M210.69 116.61A296.87 296.87 0 0 1 212.17 117.98M209.35 111.69A299.61 299.61 0 0 1 213.30 115.28M216.59 116.24A301.16 301.16 0 0 1 218.07 117.65M214.27 110.25A303.98 303.98 0 0 1 219.27 114.91M200.42 96.23A305.65 305.65 0 0 1 217.93 111.34M200.08 144.34A269.51 269.51 0 0 1 201.37 145.63M201.87 139.91A273.91 273.91 0 0 1 203.85 141.88M201.35 148.21A267.69 267.69 0 0 1 202.61 149.51M205.71 149.08A270.23 270.23 0 0 1 206.97 150.42M206.18 144.79A273.54 273.54 0 0 1 208.75 147.48M206.93 136.80A279.68 279.68 0 0 1 211.91 141.89M208.48 130.45A285.30 285.30 0 0 1 213.45 135.40M213.05 130.83A288.23 288.23 0 0 1 221.45 139.55M213.04 152.35A273.40 273.40 0 0 1 214.28 153.74M214.32 148.69A276.81 276.81 0 0 1 216.20 150.78M218.82 146.53A281.59 281.59 0 0 1 221.67 149.74M211.87 163.09A265.45 265.45 0 0 1 213.03 164.47M217.11 159.85A271.54 271.54 0 0 1 218.88 161.97M219.62 154.04A277.23 277.23 0 0 1 222.36 157.27M223.36 153.64A280.33 280.33 0 0 1 226.86 157.84M225.48 143.49A288.58 288.58 0 0 1 231.46 150.46M222.29 130.34A295.16 295.16 0 0 1 233.49 142.66M217.43 170.06A265.33 265.33 0 0 1 218.50 171.42M200.90 191.17A239.34 239.34 0 0 1 201.84 192.43M205.75 185.51A246.63 246.63 0 0 1 207.21 187.44M212.73 181.75A254.45 254.45 0 0 1 214.97 184.76M218.01 180.17A259.63 259.63 0 0 1 220.14 183.08M217.41 174.46A262.60 262.60 0 0 1 221.48 179.87M222.47 167.19A271.07 271.07 0 0 1 226.23 172.06M226.45 160.57A278.29 278.29 0 0 1 230.09 165.20M227.26 182.24A265.92 265.92 0 0 1 228.25 183.67M228.28 179.38A268.40 268.40 0 0 1 229.80 181.53M234.62 176.52A275.23 275.23 0 0 1 236.93 179.85M231.80 187.58A266.65 266.65 0 0 1 232.76 189.04M236.35 182.42A273.31 273.31 0 0 1 237.84 184.65M238.69 176.17A278.76 278.76 0 0 1 241.64 180.51M235.64 157.08A287.66 287.66 0 0 1 247.54 173.33M227.62 194.40A259.43 259.43 0 0 1 228.51 195.78M208.63 213.68A233.09 233.09 0 0 1 209.40 214.95M215.80 210.21A241.02 241.02 0 0 1 216.98 212.18M222.16 203.58A249.90 249.90 0 0 1 224.01 206.63M229.31 197.22A259.34 259.34 0 0 1 231.15 200.20M232.39 192.32A264.56 264.56 0 0 1 234.68 195.96M240.41 200.27A267.26 267.26 0 0 1 241.26 201.74M239.12 190.63A271.15 271.15 0 0 1 244.21 199.05M223.39 213.82A245.75 245.75 0 0 1 224.16 215.18M227.52 212.39A250.04 250.04 0 0 1 228.67 214.47M233.98 213.40A255.21 255.21 0 0 1 234.74 214.83M237.72 208.08A261.05 261.05 0 0 1 239.51 211.35M227.83 220.29A246.54 246.54 0 0 1 228.56 221.68M236.73 216.53A256.17 256.17 0 0 1 237.85 218.70M242.77 214.79A262.33 262.33 0 0 1 244.09 217.39M246.06 205.64A269.53 269.53 0 0 1 249.85 212.83M246.57 191.88A276.84 276.84 0 0 1 254.44 205.81M242.63 221.80A259.07 259.07 0 0 1 243.35 223.28M249.06 219.62A265.80 265.80 0 0 1 250.14 221.90M250.93 215.87A269.13 269.13 0 0 1 252.61 219.33M253.85 196.95A280.56 280.56 0 0 1 262.06 212.61M251.57 223.10A266.59 266.59 0 0 1 252.28 224.64M235.04 234.20A246.95 246.95 0 0 1 235.67 235.63M231.27 239.24A241.47 241.47 0 0 1 231.87 240.65M234.93 241.04A244.13 244.13 0 0 1 235.52 242.47M236.40 237.88A246.72 246.72 0 0 1 237.62 240.76M239.75 232.97A251.75 251.75 0 0 1 241.65 237.37M230.02 249.59A236.39 236.39 0 0 1 230.55 250.99M232.58 251.83A237.99 237.99 0 0 1 233.11 253.25M234.34 248.73A240.73 240.73 0 0 1 235.41 251.59M235.14 254.12A239.60 239.60 0 0 1 235.65 255.56M237.10 249.32A243.10 243.10 0 0 1 238.69 253.67M241.23 243.55A249.03 249.03 0 0 1 243.48 249.45M247.09 239.49A255.98 255.98 0 0 1 248.86 244.03M248.22 231.92A259.93 259.93 0 0 1 251.67 240.31M253.64 223.08A268.48 268.48 0 0 1 257.89 232.85M257.46 249.65A262.14 262.14 0 0 1 258 251.23M252.97 256.35A255.76 255.76 0 0 1 253.46 257.90M258.28 252.89A261.88 261.88 0 0 1 259.05 255.26M259.86 249.72A264.39 264.39 0 0 1 261.05 253.30M267.72 249.09A272.04 272.04 0 0 1 269.50 254.64M263.31 224.68A276.66 276.66 0 0 1 273.02 250.45M244.21 264.05A245.11 245.11 0 0 1 244.64 265.46M227.69 271.91A227.03 227.03 0 0 1 228.07 273.23M232.81 271.16A232.16 232.16 0 0 1 233.38 273.18M240.44 270.10A239.79 239.79 0 0 1 241.12 272.55M250.56 268.63A249.93 249.93 0 0 1 251.30 271.37M253.37 262.08A254.44 254.44 0 0 1 255.29 268.83M258.04 264.40A258.27 258.27 0 0 1 259.75 270.75M225.70 282.27A222.44 222.44 0 0 1 226.02 283.58M233.95 280.98A230.76 230.76 0 0 1 234.43 283.01M240.64 280.47A237.39 237.39 0 0 1 241.21 282.92M251.19 274.51A249.05 249.05 0 0 1 252.29 279.08M241.02 285.89A236.57 236.57 0 0 1 241.31 287.29M248.10 282.88A244.13 244.13 0 0 1 248.56 285.04M255.30 275.94A252.70 252.70 0 0 1 256.71 282.17M240.25 288.96A235.20 235.20 0 0 1 240.53 290.35M246.53 290.68A241.04 241.04 0 0 1 246.79 292.11M249.03 287.96A244.01 244.01 0 0 1 249.58 290.86M243.47 294.17A237.41 237.41 0 0 1 243.71 295.58M241.42 297.41A234.85 234.85 0 0 1 241.64 298.81M238.84 300.66A231.80 231.80 0 0 1 239.04 302.05M244.45 297.64A237.80 237.80 0 0 1 244.88 300.48M252.62 293.33A246.56 246.56 0 0 1 253.33 297.74M259.76 287.42A254.64 254.64 0 0 1 260.96 294.24M267.97 276.34A264.95 264.95 0 0 1 270.53 289.04M268.93 264.86A268.65 268.65 0 0 1 272.96 281.94M251.04 301.78A243.71 243.71 0 0 1 251.23 303.19M254.11 302.09A246.72 246.72 0 0 1 254.39 304.22M230.31 308.55A222.29 222.29 0 0 1 230.46 309.84M236.36 308.50A228.31 228.31 0 0 1 236.59 310.47M231.02 313.68A222.44 222.44 0 0 1 231.14 314.97M233.66 312.11A225.23 225.23 0 0 1 233.85 314.07M240.34 309.05A232.19 232.19 0 0 1 240.69 312.41M240.45 318.18A231.46 231.46 0 0 1 240.54 319.53M241.98 316.71A233.10 233.10 0 0 1 242.13 318.74M244.96 315.10A236.20 236.20 0 0 1 245.15 317.50M248.76 309.86A240.48 240.48 0 0 1 249.32 315.96M257.70 302.70A250.19 250.19 0 0 1 258.73 312.02M251.59 321.61A242.36 242.36 0 0 1 251.67 323.02M255.61 319.95A246.46 246.46 0 0 1 255.73 322.10M248.58 324.57A239.21 239.21 0 0 1 248.64 325.96M245.18 328.83A235.66 235.66 0 0 1 245.21 330.20M248.83 327.34A239.35 239.35 0 0 1 248.89 329.43M251.12 325.16A241.72 241.72 0 0 1 251.23 328.32M258.01 320.89A248.81 248.81 0 0 1 258.26 326.50M265.26 306.58A257.23 257.23 0 0 1 266.57 323.31M261.42 334.27A251.83 251.83 0 0 1 261.42 335.73M264.02 332.78A254.43 254.43 0 0 1 264.03 335M267.25 331.25A257.67 257.67 0 0 1 267.27 333.88M251.61 338.52A242.03 242.03 0 0 1 251.58 339.93M251.20 341.33A241.68 241.68 0 0 1 251.16 342.73M257.23 339.32A247.66 247.66 0 0 1 257.16 342.20M263.84 337.22A254.25 254.25 0 0 1 263.78 340.92M270.94 332.53A261.35 261.35 0 0 1 270.91 339.18M272.05 314.46A263.25 263.25 0 0 1 272.85 335.86M257.93 344.37A248.50 248.50 0 0 1 257.87 345.76M239.89 346.28A230.57 230.57 0 0 1 239.83 347.57M229.72 349.50A220.60 220.60 0 0 1 229.63 350.73M236.88 348.69A227.69 227.69 0 0 1 236.76 350.60M234.69 352.36A225.76 225.76 0 0 1 234.59 353.62M242.27 350A233.15 233.15 0 0 1 242.01 353.58M244.53 347.17A235.24 235.24 0 0 1 244.23 351.94M247.73 349.76A238.58 238.58 0 0 1 247.26 356.02M250.09 357.63A241.55 241.55 0 0 1 249.96 358.98M253.58 353.35A244.67 244.67 0 0 1 253.13 358.60M260.47 345.17A251.07 251.07 0 0 1 259.75 356.52M245.40 361.20A237.25 237.25 0 0 1 245.25 362.52M251.33 362.54A243.30 243.30 0 0 1 251.09 364.58M253.72 360.73A245.47 245.47 0 0 1 253.37 363.81M244.13 366.40A236.63 236.63 0 0 1 243.95 367.71M251.31 365.98A243.68 243.68 0 0 1 251.04 368.01M248.20 369.67A241.10 241.10 0 0 1 248 371.01M250.60 370.71A243.63 243.63 0 0 1 250.29 372.74M253.10 367.25A245.63 245.63 0 0 1 252.42 372.03M245.90 373.41A239.40 239.40 0 0 1 245.68 374.73M232.77 375.14A226.76 226.76 0 0 1 232.55 376.39M235.57 376.30A229.72 229.72 0 0 1 235.22 378.20M244.38 375.87A238.31 238.31 0 0 1 243.84 378.83M253.26 375.31A246.97 246.97 0 0 1 252.64 378.89M256.89 370.23A249.79 249.79 0 0 1 255.73 377.58M262.65 363.29A254.62 254.62 0 0 1 261.11 374.66M267.42 351.31A258.34 258.34 0 0 1 265.63 369.48M239.94 380.56A234.80 234.80 0 0 1 239.64 382.06M245.42 382.44A240.54 240.54 0 0 1 244.94 384.75M247.53 384.08A242.94 242.94 0 0 1 246.95 386.81M239.24 388.28A235.74 235.74 0 0 1 238.89 389.78M245.47 388.10A241.77 241.77 0 0 1 244.94 390.41M247.08 389.69A243.69 243.69 0 0 1 246.24 393.18M251.74 386.40A247.54 247.54 0 0 1 250.41 392.33M240.54 394.99A238.61 238.61 0 0 1 240.14 396.50M244.91 394.49A242.71 242.71 0 0 1 244.31 396.79M237.96 397.53A236.77 236.77 0 0 1 237.55 399.02M228.13 397.92A227.41 227.41 0 0 1 227.72 399.35M220.94 400.37A221.22 221.22 0 0 1 220.51 401.75M226.12 400.42A226.19 226.19 0 0 1 225.47 402.55M231.28 399.62A230.91 230.91 0 0 1 230.31 402.87M239.44 398.74A238.51 238.51 0 0 1 238.09 403.43M248.58 396.67A246.81 246.81 0 0 1 246.75 403.39M256.40 390.56A252.98 252.98 0 0 1 253.64 401.66M244.63 412.78A247.56 247.56 0 0 1 244.11 414.32M247.91 412.14A250.48 250.48 0 0 1 247.14 414.48M244.64 416.22A248.67 248.67 0 0 1 244.10 417.75M246.13 417.60A250.53 250.53 0 0 1 245.30 419.92M253.41 415.25A256.68 256.68 0 0 1 251.51 420.81M261.54 397.73A259.64 259.64 0 0 1 255.27 418.99M221.69 413.02A225.99 225.99 0 0 1 221.15 414.47M223.94 414.68A228.67 228.67 0 0 1 223.11 416.88M223.11 418.57A229.28 229.28 0 0 1 222.53 420.03M225.16 416.40A230.42 230.42 0 0 1 223.88 419.72M228.09 419.44A234.23 234.23 0 0 1 226.53 423.35M229.07 426.15A237.64 237.64 0 0 1 228.44 427.65M233.20 423.73A240.57 240.57 0 0 1 231.45 428.03M204.62 425.57A215.02 215.02 0 0 1 203.99 426.90M208.73 425.82A218.87 218.87 0 0 1 207.79 427.87M214.40 426.72A224.40 224.40 0 0 1 213.29 429.17M219.01 430.30A230.08 230.08 0 0 1 216.92 434.76M223.61 429.09A233.78 233.78 0 0 1 221.34 434.11M230.91 430.49A241.03 241.03 0 0 1 229.09 434.60M238 428.20A246.69 246.69 0 0 1 235.18 434.84M218.51 439.08A233.40 233.40 0 0 1 217.79 440.51M222.24 439.12A236.76 236.76 0 0 1 221.15 441.30M214.82 442.57A231.70 231.70 0 0 1 214.08 443.97M217.68 442.25A234.10 234.10 0 0 1 216.57 444.39M223.63 441.17A238.91 238.91 0 0 1 221.40 445.55M227.23 445.76A244.20 244.20 0 0 1 224.31 451.32M214.44 449.63A234.73 234.73 0 0 1 213.65 451.03M212.79 454.26A235.60 235.60 0 0 1 211.97 455.65M214.91 453.62A237.11 237.11 0 0 1 213.68 455.72M218.20 452.68A239.50 239.50 0 0 1 216.36 455.88M223.02 452.52A243.64 243.64 0 0 1 220.87 456.34M228.59 450.02A247.36 247.36 0 0 1 225.20 456.26M244.24 434.77A254.97 254.97 0 0 1 233.61 456.79M207.62 454.92A231.50 231.50 0 0 1 206.77 456.30M204.54 456.81A229.87 229.87 0 0 1 203.68 458.17M210.55 457.66A235.43 235.43 0 0 1 208.82 460.46M192.61 452.94A217.72 217.72 0 0 1 191.78 454.21M186.03 452.22A211.83 211.83 0 0 1 185.21 453.45M188.63 454.85A215.44 215.44 0 0 1 187.36 456.72M193.95 454.72A219.81 219.81 0 0 1 191.61 458.23M185.64 457.35A214.38 214.38 0 0 1 184.78 458.58M177.65 458.90A208.79 208.79 0 0 1 176.78 460.07M182.35 460.51A213.53 213.53 0 0 1 181.02 462.31M185.94 461.25A216.87 216.87 0 0 1 184.38 463.39M189.91 461.25A220.11 220.11 0 0 1 187.79 464.22M185.32 468.38A220.61 220.61 0 0 1 184.39 469.60M193.23 465.86A225.49 225.49 0 0 1 188.73 471.96M199.50 460.93A227.86 227.86 0 0 1 192.92 470.34M191.43 479.12A232.02 232.02 0 0 1 190.42 480.38M195.39 480.16A235.77 235.77 0 0 1 193.86 482.09M204.34 471.33A237.72 237.72 0 0 1 196.15 482.33M214.88 462.28A241.53 241.53 0 0 1 203.39 479.17M191.23 485.26A235.72 235.72 0 0 1 190.18 486.52M193.48 488.20A239.34 239.34 0 0 1 191.86 490.12M196.62 487.53A241.34 241.34 0 0 1 194.20 490.45M173.09 480.15A218.62 218.62 0 0 1 172.07 481.29M177.91 482.34A223.69 223.69 0 0 1 176.36 484.10M180.92 482.88A226.32 226.32 0 0 1 179.10 484.96M185.32 488.56A233.36 233.36 0 0 1 181.92 492.35M188.64 494.94A240.07 240.07 0 0 1 185.75 498.11M196.84 490.17A243.18 243.18 0 0 1 189.50 498.63M215.41 474.99A248.91 248.91 0 0 1 197.54 498.20M165.72 483.97A215.79 215.79 0 0 1 164.58 485.16M164.27 487.16A216.97 216.97 0 0 1 163.10 488.34M169.99 489.21A222.50 222.50 0 0 1 167.62 491.64M176.72 492.04A229.32 229.32 0 0 1 173.69 495.20M160.31 487.87A214.67 214.67 0 0 1 159.14 489.01M161.28 490.03A216.89 216.89 0 0 1 159.50 491.76M156.39 493.27A215.86 215.86 0 0 1 155.18 494.39M159.51 494.19A218.66 218.66 0 0 1 157.68 495.89M164.39 495.02A222.63 222.63 0 0 1 161.30 497.95M159.42 501.57A224.04 224.04 0 0 1 158.14 502.71M164.84 498.59A225.53 225.53 0 0 1 159.78 503.26M176.67 495.02A231.34 231.34 0 0 1 166.26 505.22M153.84 500.39A219.45 219.45 0 0 1 152.58 501.48M148.53 499.29A215.16 215.16 0 0 1 147.27 500.35M147.26 502.92A217.13 217.13 0 0 1 145.97 503.97M150.73 503.19A219.56 219.56 0 0 1 148.14 505.32M155.75 503.86A223.32 223.32 0 0 1 151.84 507.17M145.01 505.43A217.67 217.67 0 0 1 143.71 506.46M146.67 508.87A221.40 221.40 0 0 1 144.67 510.43M156.54 508.77A227.57 227.57 0 0 1 149.46 514.52M144.42 515.75A225.49 225.49 0 0 1 143.03 516.77M147.16 516.51A227.75 227.75 0 0 1 145.07 518.08M156.58 516.05A233.20 233.20 0 0 1 149.39 521.66M176.68 505.44A238.68 238.68 0 0 1 156.38 523.21M129.16 508.76A210.92 210.92 0 0 1 127.83 509.66M133.26 511.82A215.77 215.77 0 0 1 131.23 513.22M137.21 514.53A220.26 220.26 0 0 1 134.80 516.22M140.51 521.79A228.10 228.10 0 0 1 136.01 524.87M147.18 525.45A234.95 234.95 0 0 1 142.14 529M147.49 531.26A239.86 239.86 0 0 1 141.01 535.66M170.05 518.35A243.64 243.64 0 0 1 146.39 536.61M126.84 521.80A220.55 220.55 0 0 1 124.91 523M117.34 519.07A213.28 213.28 0 0 1 115.43 520.17M122.63 523.62A219.89 219.89 0 0 1 119.70 525.34M128.37 526.42A225.27 225.27 0 0 1 123.89 529.12M121.17 534.97A228.99 228.99 0 0 1 119.10 536.11M129.71 533.69A232.18 232.18 0 0 1 121.68 538.33M138.38 535.55A238.34 238.34 0 0 1 128.80 541.39M134.82 540.49A240.64 240.64 0 0 1 122.49 547.52M111.42 536.60A225.85 225.85 0 0 1 109.33 537.64M112.17 540.73A229.88 229.88 0 0 1 108.98 542.29M118.73 545.66A237.25 237.25 0 0 1 113.81 548.13M119.23 552.78A243.81 243.81 0 0 1 112.73 555.93M132.38 550.54A248.06 248.06 0 0 1 117.84 558.19M105.66 546.45A232.25 232.25 0 0 1 103.48 547.43M101.92 549.88A233.87 233.87 0 0 1 99.70 550.82M106.41 551.05A236.75 236.75 0 0 1 101.93 553M93.30 541.46A222.78 222.78 0 0 1 91.17 542.31M95.20 549.31A230.77 230.77 0 0 1 91.87 550.61M94.52 552.47A233.47 233.47 0 0 1 90.58 553.97M106.19 556.65A241.78 241.78 0 0 1 95.51 561M126.77 557.51A251.48 251.48 0 0 1 104.53 567.87M87.24 558.36A236.47 236.47 0 0 1 85.07 559.10M81.45 555.40A231.82 231.82 0 0 1 79.31 556.09M76.92 555.97A231 231 0 0 1 74.78 556.61M81.40 558.94A235.17 235.17 0 0 1 77.05 560.29M69.74 547.05A220.41 220.41 0 0 1 67.68 547.62M64.68 544.62A216.73 216.73 0 0 1 62.64 545.14M69.03 548.51A221.63 221.63 0 0 1 64.88 549.62M60.71 546.07A217.17 217.17 0 0 1 58.66 546.56M60.49 549.72A220.67 220.67 0 0 1 57.36 550.44M67.43 550.81A223.42 223.42 0 0 1 59.54 552.77M65.12 558.39A230.18 230.18 0 0 1 57.24 560.20M79.91 561.83A237.48 237.48 0 0 1 62.82 566.44M87.69 563.22A241.21 241.21 0 0 1 72.38 567.90M81.10 569.04A244.71 244.71 0 0 1 57.92 574.90M93.62 569.37A248.98 248.98 0 0 1 70.63 576.38M56.53 580.22A249.67 249.67 0 0 1 54.15 580.66M83.20 576.40A252.37 252.37 0 0 1 55.83 583.10M51.19 577.55A246.09 246.09 0 0 1 48.91 577.93M45.95 573.83A241.58 241.58 0 0 1 43.70 574.16M45.46 578.35A245.98 245.98 0 0 1 42.03 578.83M35.70 564.14A230.62 230.62 0 0 1 33.54 564.38M35.34 570.84A237.24 237.24 0 0 1 32.01 571.18M38.93 572.60A239.40 239.40 0 0 1 33.89 573.16M43.98 580.27A247.66 247.66 0 0 1 37.33 581.10M51.15 584.33A252.77 252.77 0 0 1 41.30 585.77M26.46 557.10A222.74 222.74 0 0 1 24.37 557.25M25.64 560.33A225.90 225.90 0 0 1 22.46 560.54M29.01 562.29A228.11 228.11 0 0 1 24.19 562.65M27.04 568.33A233.98 233.98 0 0 1 20.72 568.72M24.32 575.76A241.21 241.21 0 0 1 18.80 576.04M16.54 576.18A241.28 241.28 0 0 1 14.27 576.24M15.44 577.73A242.80 242.80 0 0 1 12.01 577.79M21.99 584.45A249.75 249.75 0 0 1 13.84 584.72M46.70 588.26A255.96 255.96 0 0 1 18.12 590.82M72.31 591.19A263.75 263.75 0 0 1 33.14 597.70M121.16 574.51A264.22 264.22 0 0 1 62.71 593.82M171.35 544.49A264.67 264.67 0 0 1 107.16 581.03M219.65 496.74A265.10 265.10 0 0 1 156.54 555.65M248.65 450.48A265.48 265.48 0 0 1 206.02 513.61M265.78 410.54A267.08 267.08 0 0 1 241.11 468.17M277.87 361.52A269.57 269.57 0 0 1 263.24 426.31M282.88 324.77A273.47 273.47 0 0 1 279.57 378.64M278.77 271.56A276.54 276.54 0 0 1 286.12 338.32M271.99 236.12A280.40 280.40 0 0 1 285.93 287.39M262.89 202.19A286 286 0 0 1 281.71 246.96M245.94 162.02A292.88 292.88 0 0 1 274.53 210.14M230.49 134.14A298.56 298.56 0 0 1 258.68 170.39M211.83 100.70A309.50 309.50 0 0 1 246.43 135.74M183.56 70.06A316.95 316.95 0 0 1 226.08 103.50M150.75 46.70A321 321 0 0 1 197.08 74.44M112.08 29.97A321.78 321.78 0 0 1 163.13 52.21M45.54 14.80A322.21 322.21 0 0 1 125.35 34.29M-1.63 13.40A321.80 321.80 0 0 1 109.04 28.95M225.91 166A274.50 274.50 0 0 1 227.23 167.71M231.24 163.08A280.50 280.50 0 0 1 239.37 174.11" fill="none" stroke="#333" stroke-width="0.6"/>
<circle cx="9.6" cy="335.0" r="156.5" fill="none" stroke="#C8C8C8" stroke-width="0.6"/>
<circle cx="9.6" cy="335.0" r="174.3" fill="none" stroke="#D0D0D0" stroke-width="0.5"/>
<circle cx="9.6" cy="335.0" r="22" fill="none" stroke="#C8C8C8" stroke-width="0.6"/>
<path d="M148.11 228.04L145.74 229.88L146.38 230.71L148.76 228.89ZM155.23 237.97L143.58 245.73L144.13 246.55L155.82 238.86ZM156.74 240.27L149.17 245.14L149.72 245.99L157.32 241.17ZM157.72 241.81L149.26 247.14L149.79 247.99L158.29 242.72ZM164.58 253.72L162.37 254.88L162.85 255.82L165.07 254.67ZM169.25 263.33L166.97 264.36L167.40 265.32L169.69 264.31ZM174.38 276.08L171.56 277.09L171.91 278.08L174.74 277.09ZM177.67 286.25L175.27 286.95L175.56 287.96L177.97 287.28ZM184.01 320.66L181.02 320.91L181.12 322.10L184.11 321.88ZM184.24 323.71L181.74 323.87L181.81 325.07L184.31 324.93ZM184.60 336.22L180.60 336.19L180.58 337.39L184.58 337.44ZM184.56 338.66L178.56 338.54L178.53 339.72L184.53 339.89ZM184.49 341.11L181.50 341.00L181.45 342.20L184.45 342.33ZM183.54 354.20L181.06 353.93L180.92 355.13L183.40 355.42ZM182.45 362.38L177.51 361.59L177.32 362.77L182.25 363.58ZM181.94 365.39L179.48 364.95L179.27 366.14L181.73 366.59ZM178.48 380.88L149.53 373.02L149.26 373.99L178.15 382.06ZM177.82 383.24L154.75 376.62L154.46 377.63L177.48 384.41ZM177.22 385.29L151.36 377.53L151.06 378.52L176.86 386.46ZM176.59 387.33L171.82 385.84L171.46 386.97L176.22 388.50ZM165.18 415.13L161.62 413.30L160.93 414.62L164.47 416.48ZM163.61 418.10L156.57 414.30L155.87 415.58L162.88 419.44ZM161.84 421.31L156.62 418.35L155.88 419.63L161.08 422.63ZM159.68 425.00L156.25 422.94L155.48 424.22L158.89 426.31ZM155.11 432.22L152.61 430.56L151.77 431.80L154.25 433.49ZM147.97 442.14L145.99 440.61L145.07 441.79L147.03 443.34ZM133.88 458.20L132.46 456.79L131.39 457.86L132.80 459.28ZM121.50 469.55L118.30 465.70L117.16 466.65L120.32 470.52ZM119.61 471.10L114.58 464.88L113.45 465.79L118.42 472.05ZM117.46 472.81L113.76 468.08L112.60 468.99L116.25 473.74ZM115.04 474.67L109.62 467.49L108.46 468.35L113.82 475.58ZM112.09 476.85L109.75 473.60L108.54 474.47L110.85 477.74ZM106.82 480.51L105.16 478.01L103.91 478.84L105.55 481.35Z" fill="#F6A95F" stroke="#F6A95F" stroke-width="0.5"/>
<path d="M97.76 486.17L96.75 484.44L95.45 485.20L96.44 486.93ZM80.08 495.18L78.87 492.43L77.50 493.03L78.68 495.79ZM74.45 497.54L72.97 493.83L71.58 494.37L73.03 498.10ZM71.32 498.76L70.26 495.95L68.85 496.47L69.88 499.29ZM67.30 500.22L66.47 497.86L65.05 498.35L65.85 500.71ZM64.55 501.15L63.48 497.92L61.77 498.47L62.81 501.72ZM63.24 501.58L62.13 498.13L60.42 498.67L61.49 502.13ZM61.93 501.99L60.63 497.84L58.92 498.37L60.18 502.53ZM60.62 502.40L59.62 499.12L57.90 499.63L58.86 502.92ZM59.30 502.79L58.30 499.42L56.58 499.92L57.54 503.30ZM57.98 503.18L56.97 499.65L55.24 500.13L56.22 503.68ZM56.66 503.55L55.89 500.79L54.15 501.27L54.89 504.04ZM55.34 503.92L54.41 500.52L52.68 500.98L53.56 504.39ZM54.01 504.27L53.05 500.64L51.32 501.08L52.23 504.73ZM52.68 504.62L51.67 500.66L49.93 501.09L50.90 505.06ZM51.34 504.95L50.70 502.34L48.95 502.76L49.56 505.38ZM50.01 505.27L49.29 502.25L47.54 502.65L48.22 505.68ZM48.67 505.58L48.07 502.97L46.31 503.36L46.88 505.98ZM47.33 505.88L46.44 501.86L44.69 502.24L45.54 506.27ZM45.98 506.18L45.18 502.37L43.42 502.74L44.19 506.55ZM44.64 506.46L44.12 503.92L42.35 504.28L42.84 506.81ZM43.29 506.73L42.43 502.35L40.68 502.68L41.49 507.07ZM41.94 506.99L41.12 502.63L39.37 502.95L40.14 507.31ZM40.59 507.23L39.92 503.49L38.15 503.79L38.78 507.55ZM39.24 507.47L38.60 503.80L36.84 504.09L37.43 507.77ZM37.88 507.70L37.43 504.92L35.64 505.20L36.07 507.99ZM36.52 507.92L36.13 505.42L34.35 505.69L34.71 508.19ZM35.16 508.12L34.64 504.60L32.87 504.86L33.35 508.38ZM33.80 508.32L33.44 505.72L31.65 505.96L31.99 508.56ZM32.44 508.50L32.07 505.65L30.28 505.87L30.62 508.73ZM31.08 508.68L30.71 505.72L28.92 505.93L29.26 508.89ZM29.71 508.84L29.42 506.30L27.62 506.50L27.89 509.04ZM28.35 508.99L27.98 505.58L26.19 505.77L26.53 509.18ZM26.98 509.13L26.65 505.77L24.86 505.94L25.16 509.31ZM25.61 509.27L25.23 505.10L23.45 505.25L23.79 509.42ZM24.24 509.39L23.95 505.86L22.16 506.00L22.42 509.53ZM22.87 509.50L22.59 505.73L20.80 505.85L21.05 509.63ZM21.50 509.59L21.26 506.10L19.47 506.22L19.67 509.71ZM20.13 509.68L19.90 505.86L18.11 505.96L18.30 509.78ZM18.76 509.76L18.58 506.35L16.79 506.43L16.93 509.85ZM17.39 509.83L17.25 506.77L15.45 506.84L15.55 509.90ZM16.01 509.88L15.85 505.39L14.06 505.45L14.18 509.94ZM14.64 509.93L14.51 505.44L12.72 505.48L12.81 509.97ZM13.26 509.96L13.18 505.78L11.39 505.81L11.43 509.99ZM11.89 509.99L11.84 506.07L10.05 506.08L10.06 510.00ZM10.52 510.00L10.50 506.87L8.70 506.87L8.68 510.00ZM31.38 508.64L29.51 493.76L27.57 493.99L29.26 508.89ZM20.13 509.68L19.59 500.70L18.14 500.78L18.61 509.77ZM37.73 507.72L36.60 500.82L35.16 501.04L36.22 507.96ZM46.73 506.02L45.25 499.17L43.81 499.48L45.24 506.33ZM50.90 505.06L49.95 501.17L48.50 501.52L49.41 505.41ZM15.86 509.89L15.54 500.89L14.09 500.94L14.33 509.94ZM10.1 357.0L11.9 357.0L12.3 509.0L10.1 509.0ZM11.6 433.0L13.6 433.0L14.0 509.0L12.0 509.0ZM17.3 435.5L19.1 435.5L22.6 507.0L20.4 507.0ZM21.2 472.5L23.8 472.5L25.4 507.0L22.6 507.0ZM24.8 489.0L26.6 489.0L27.6 507.0L25.6 507.0ZM26.4 492.0L28.0 492.0L28.8 507.0L27.4 507.0Z" fill="#F6A95F" stroke="#F6A95F" stroke-width="0.5"/>
<path d="M9.60 154.00A181.00 181.00 0 0 1 188.42 307.00" fill="none" stroke="#4DA3FF" stroke-width="11.0"/>
<path d="M188.42 307.00A181.00 181.00 0 0 1 189.05 311.37" fill="none" stroke="#9DD0D0" stroke-width="11.0"/>
<path d="M189.05 311.37A181.00 181.00 0 0 1 181.54 391.53" fill="none" stroke="#4DF04D" stroke-width="11.0"/>
<path d="M181.54 391.53A181.00 181.00 0 0 1 181.15 392.73" fill="none" stroke="#BB77BB" stroke-width="11.0"/>
<path d="M181.15 392.73A181.00 181.00 0 0 1 175.33 407.75" fill="none" stroke="#3F7F77" stroke-width="11.0"/>
<path d="M175.33 407.75A181.00 181.00 0 0 1 167.75 423.03" fill="none" stroke="#5555AA" stroke-width="11.0"/>
<path d="M167.75 423.03A181.00 181.00 0 0 1 119.54 478.79" fill="none" stroke="#FF55AA" stroke-width="11.0"/>
<path d="M119.54 478.79A181.00 181.00 0 0 1 82.64 500.61" fill="none" stroke="#CC99CC" stroke-width="11.0"/>
<path d="M82.64 500.61A181.00 181.00 0 0 1 79.45 501.98" fill="none" stroke="#D5D8EE" stroke-width="11.0"/>
<path d="M79.45 501.98A181.00 181.00 0 0 1 66.43 506.85" fill="none" stroke="#CCCC99" stroke-width="11.0"/>
<path d="M66.43 506.85A181.00 181.00 0 0 1 8.02 515.99" fill="none" stroke="#FFAA5E" stroke-width="11.0"/>
<path d="M10.3 146.0L10.3 141.0M12.1 146.0L12.1 141.0M13.9 146.0L14.0 141.0M15.7 146.1L15.9 141.1M17.5 146.2L17.7 141.2M19.3 146.3L19.6 141.3M21.1 146.4L21.4 141.4M22.9 146.5L23.3 141.5M24.8 146.6L25.2 141.6M26.6 146.8L27.0 141.8M28.4 146.9L28.9 142.0M30.2 147.1L30.7 142.2M32.0 147.3L32.6 142.4M33.8 147.6L34.4 142.6M35.6 147.8L36.3 142.8M37.4 148.1L38.1 143.1M39.2 148.3L39.9 143.4M41.0 148.6L41.8 143.7M42.7 148.9L43.6 144.0M44.5 149.3L45.5 144.3M46.3 149.6L47.3 144.7M48.1 150.0L49.1 145.1M49.9 150.3L50.9 145.5M51.6 150.7L52.7 145.9M53.4 151.1L54.6 146.3M55.2 151.6L56.4 146.7M56.9 152.0L58.2 147.2M58.7 152.5L60.0 147.7M60.4 153.0L61.8 148.1M62.2 153.5L63.6 148.7M63.9 154.0L65.3 149.2M65.6 154.5L67.1 149.7M67.4 155.0L68.9 150.3M69.1 155.6L70.7 150.9M70.8 156.2L72.4 151.5M72.5 156.8L74.2 152.1M74.2 157.4L76.0 152.7M75.9 158.0L77.7 153.3M77.6 158.7L79.4 154.0M79.3 159.3L81.2 154.7M81.0 160.0L82.9 155.4M82.7 160.7L84.6 156.1M84.4 161.4L86.3 156.8M86.0 162.1L88.0 157.6M87.7 162.9L89.7 158.3M89.3 163.6L91.4 159.1M91.0 164.4L93.1 159.9M92.6 165.2L94.8 160.7M94.2 166.0L96.5 161.5M95.8 166.8L98.1 162.4M97.5 167.7L99.8 163.2M99.1 168.5L101.4 164.1M100.7 169.4L103.1 165.0M102.2 170.3L104.7 165.9M103.8 171.2L106.3 166.8M105.4 172.1L107.9 167.8M106.9 173.0L109.5 168.7M108.5 173.9L111.1 169.7M110.0 174.9L112.7 170.7M111.6 175.9L114.3 171.7M113.1 176.9L115.8 172.7M114.6 177.9L117.4 173.7M116.1 178.9L118.9 174.7M117.6 179.9L120.5 175.8M119.1 180.9L122.0 176.9M120.6 182.0L123.5 178.0M122.0 183.1L125.0 179.1M123.5 184.2L126.5 180.2M124.9 185.3L128.0 181.3M126.3 186.4L129.4 182.4M127.8 187.5L130.9 183.6M129.2 188.6L132.3 184.8M130.6 189.8L133.8 186.0M132.0 191.0L135.2 187.2M133.3 192.1L136.6 188.4M134.7 193.3L138.0 189.6M136.1 194.5L139.4 190.8M137.4 195.8L140.8 192.1M138.7 197.0L142.2 193.3M140.1 198.2L143.5 194.6M141.4 199.5L144.9 195.9M142.7 200.8L146.2 197.2M143.9 202.1L147.5 198.5M145.2 203.4L148.8 199.9M146.5 204.7L150.1 201.2M147.7 206.0L151.4 202.6M148.9 207.3L152.6 203.9M150.2 208.7L153.9 205.3M151.4 210.0L155.1 206.7M152.6 211.4L156.3 208.1M153.7 212.8L157.6 209.5M154.9 214.1L158.8 210.9M156.1 215.5L159.9 212.4M157.2 217.0L161.1 213.8M158.3 218.4L162.3 215.3M159.4 219.8L163.4 216.8M160.5 221.3L164.5 218.2M161.6 222.7L165.6 219.7M162.7 224.2L166.7 221.2M163.8 225.7L167.8 222.8M164.8 227.1L168.9 224.3M165.8 228.6L170.0 225.8M166.8 230.1L171.0 227.4M167.8 231.6L172.0 228.9M168.8 233.2L173.0 230.5M169.8 234.7L174.0 232.1M170.7 236.2L175.0 233.6M171.7 237.8L176.0 235.2M172.6 239.4L176.9 236.8M173.5 240.9L177.9 238.4M174.4 242.5L178.8 240.1M175.3 244.1L179.7 241.7M176.2 245.7L180.6 243.3M177.0 247.3L181.4 245.0M177.9 248.9L182.3 246.6M178.7 250.5L183.1 248.3M179.5 252.1L184.0 250.0M180.3 253.8L184.8 251.6M181.0 255.4L185.6 253.3M181.8 257.1L186.3 255.0M182.5 258.7L187.1 256.7M183.3 260.4L187.8 258.4M184.0 262.1L188.6 260.1M184.7 263.7L189.3 261.9M185.3 265.4L190.0 263.6M186.0 267.1L190.7 265.3M186.6 268.8L191.3 267.1M187.3 270.5L192.0 268.8M187.9 272.2L192.6 270.6M188.5 273.9L193.2 272.3M189.0 275.7L193.8 274.1M189.6 277.4L194.4 275.9M190.1 279.1L194.9 277.6M190.7 280.8L195.5 279.4M191.2 282.6L196.0 281.2M191.7 284.3L196.5 283.0M192.2 286.1L197.0 284.8M192.6 287.8L197.5 286.6M193.1 289.6L197.9 288.4M193.5 291.4L198.4 290.2M193.9 293.1L198.8 292.0M194.3 294.9L199.2 293.8M194.7 296.7L199.6 295.7M195.0 298.5L199.9 297.5M195.4 300.2L200.3 299.3M195.7 302.0L200.6 301.1M196.0 303.8L200.9 303.0M196.3 305.6L201.2 304.8M196.6 307.4L201.5 306.7M196.8 309.2L201.8 308.5M197.1 311.0L202.0 310.3M197.3 312.8L202.3 312.2M197.5 314.6L202.5 314.0M197.7 316.4L202.7 315.9M197.9 318.2L202.8 317.8M198.0 320.0L203.0 319.6M198.1 321.8L203.1 321.5M198.3 323.6L203.2 323.3M198.4 325.4L203.4 325.2M198.4 327.3L203.4 327.0M198.5 329.1L203.5 328.9M198.6 330.9L203.6 330.8M198.6 332.7L203.6 332.6M198.6 334.5L203.6 334.5M198.6 336.3L203.6 336.4M198.6 338.1L203.6 338.2M198.5 339.9L203.5 340.1M198.5 341.8L203.5 341.9M198.4 343.6L203.4 343.8M198.3 345.4L203.3 345.7M198.2 347.2L203.2 347.5M198.1 349.0L203.1 349.4M197.9 350.8L202.9 351.2M197.8 352.6L202.8 353.1M197.6 354.4L202.6 354.9M197.4 356.2L202.4 356.8M197.2 358.0L202.2 358.6M197.0 359.8L201.9 360.5M196.7 361.6L201.7 362.3M196.5 363.4L201.4 364.2M196.2 365.2L201.1 366.0M195.9 367.0L200.8 367.9M195.6 368.8L200.5 369.7M195.2 370.6L200.1 371.5M194.9 372.4L199.8 373.3M194.5 374.1L199.4 375.2M194.1 375.9L199.0 377.0M193.7 377.7L198.6 378.8M193.3 379.4L198.2 380.6M192.9 381.2L197.7 382.4M192.4 383.0L197.2 384.2M191.9 384.7L196.8 386.0M191.5 386.5L196.3 387.8M191.0 388.2L195.8 389.6M190.4 389.9L195.2 391.4M189.9 391.7L194.7 393.2M189.3 393.4L194.1 394.9M188.8 395.1L193.5 396.7M188.2 396.8L192.9 398.5M187.6 398.6L192.3 400.2M187.0 400.3L191.7 402.0M186.3 402.0L191.0 403.7M185.7 403.7L190.3 405.5M185.0 405.3L189.7 407.2M184.3 407.0L189.0 408.9M183.6 408.7L188.2 410.6M182.9 410.4L187.5 412.4M182.2 412.0L186.8 414.1M181.4 413.7L186.0 415.8M180.7 415.3L185.2 417.4M179.9 417.0L184.4 419.1M179.1 418.6L183.6 420.8M178.3 420.2L182.8 422.5M177.5 421.8L181.9 424.1M176.6 423.4L181.1 425.8M175.8 425.0L180.2 427.4M174.9 426.6L179.3 429.1M174.0 428.2L178.4 430.7M173.1 429.8L177.4 432.3M172.2 431.4L176.5 433.9M171.3 432.9L175.5 435.5M170.3 434.5L174.6 437.1M169.4 436.0L173.6 438.7M168.4 437.5L172.6 440.2M167.4 439.0L171.6 441.8M166.4 440.6L170.5 443.3M165.4 442.1L169.5 444.9M164.3 443.5L168.4 446.4M163.3 445.0L167.3 447.9M162.2 446.5L166.3 449.4M161.1 448.0L165.1 450.9M160.0 449.4L164.0 452.4M158.9 450.8L162.9 453.9M157.8 452.3L161.7 455.4M156.7 453.7L160.6 456.8M155.5 455.1L159.4 458.3M154.4 456.5L158.2 459.7M153.2 457.9L157.0 461.1M152.0 459.2L155.8 462.5M150.8 460.6L154.6 463.9M149.6 462.0L153.3 465.3M148.4 463.3L152.1 466.7M147.1 464.6L150.8 468.0M145.9 465.9L149.5 469.4M144.6 467.2L148.2 470.7M143.4 468.5L146.9 472.1M142.1 469.8L145.6 473.4M140.8 471.1L144.2 474.7M139.5 472.3L142.9 476.0M138.1 473.6L141.5 477.2M136.8 474.8L140.2 478.5M135.5 476.0L138.8 479.7M134.1 477.2L137.4 481.0M132.7 478.4L136.0 482.2M131.3 479.6L134.6 483.4M129.9 480.7L133.1 484.6M128.5 481.9L131.7 485.8M127.1 483.0L130.2 486.9M125.7 484.1L128.8 488.1M124.3 485.2L127.3 489.2M122.8 486.3L125.8 490.3M121.4 487.4L124.3 491.5M119.9 488.5L122.8 492.5M118.4 489.5L121.3 493.6M116.9 490.6L119.8 494.7M115.4 491.6L118.2 495.7M113.9 492.6L116.7 496.8M112.4 493.6L115.1 497.8M110.9 494.6L113.6 498.8M109.3 495.5L112.0 499.8M107.8 496.5L110.4 500.8M106.2 497.4L108.8 501.7M104.7 498.3L107.2 502.7M103.1 499.3L105.6 503.6M101.5 500.1L103.9 504.5M99.9 501.0L102.3 505.4M98.3 501.9L100.7 506.3M96.7 502.7L99.0 507.2M95.1 503.5L97.4 508.0M93.5 504.4L95.7 508.8M91.9 505.2L94.0 509.7M90.2 505.9L92.4 510.5M88.6 506.7L90.7 511.3M86.9 507.5L89.0 512.0M85.3 508.2L87.3 512.8M83.6 508.9L85.6 513.5M81.9 509.6L83.8 514.2M80.2 510.3L82.1 514.9M78.6 511.0L80.4 515.6M76.9 511.6L78.6 516.3M75.2 512.3L76.9 517.0M73.5 512.9L75.2 517.6M71.8 513.5L73.4 518.2M70.0 514.1L71.6 518.8M68.3 514.6L69.9 519.4M66.6 515.2L68.1 520.0M64.9 515.7L66.3 520.5M63.1 516.3L64.5 521.1M61.4 516.8L62.7 521.6M59.6 517.3L61.0 522.1M57.9 517.7L59.2 522.6M56.1 518.2L57.4 523.0M54.4 518.6L55.5 523.5M52.6 519.0L53.7 523.9M50.8 519.4L51.9 524.3M49.1 519.8L50.1 524.7M47.3 520.2L48.3 525.1M45.5 520.6L46.5 525.5M43.7 520.9L44.6 525.8M41.9 521.2L42.8 526.1M40.1 521.5L41.0 526.5M38.4 521.8L39.1 526.7M36.6 522.1L37.3 527.0M34.8 522.3L35.4 527.3M33.0 522.6L33.6 527.5M31.2 522.8L31.7 527.7M29.4 523.0L29.9 527.9M27.6 523.1L28.0 528.1M25.7 523.3L26.2 528.3M23.9 523.5L24.3 528.4M22.1 523.6L22.5 528.6M20.3 523.7L20.6 528.7M18.5 523.8L18.7 528.8M16.7 523.9L16.9 528.9M14.9 523.9L15.0 528.9M13.1 524.0L13.2 529.0M11.2 524.0L11.3 529.0" stroke="#D8D8D8" stroke-width="0.35" fill="none"/>
<path d="M12.73 160.03L12.62 166.03L13.66 166.05L13.80 160.05ZM16.70 160.14L16.33 169.14L17.35 169.18L17.77 160.19ZM21.27 160.39L21.01 164.38L22.05 164.45L22.34 160.46ZM37.96 162.31L35.04 180.07L35.99 180.23L39.01 162.49ZM40.36 162.73L37.90 176.51L38.87 176.68L41.42 162.92ZM43.97 163.41L42.39 171.25L43.39 171.46L45.01 163.62ZM51.42 165.07L50.22 169.92L51.23 170.18L52.45 165.33ZM64.62 168.87L63.05 173.62L64.03 173.95L65.63 169.21ZM74.66 172.54L73.17 176.26L74.14 176.65L75.65 172.94ZM89.93 179.53L87.18 184.86L88.09 185.33L90.88 180.02ZM94.78 182.13L92.83 185.62L93.74 186.13L95.71 182.65ZM106.00 188.94L102.69 193.95L103.55 194.52L106.89 189.54ZM125.39 203.78L122.08 207.53L122.86 208.22L126.19 204.49ZM142.32 220.94L139.29 223.55L139.97 224.34L143.02 221.75Z" fill="#F6A95F" stroke="#F6A95F" stroke-width="0.5"/>
<path d="M15.25 160.09L14.93 170.09L15.79 170.12L16.17 160.12ZM28.04 160.97L26.78 172.91L27.63 173.00L28.96 161.07ZM58.86 167.08L56.89 173.79L57.74 174.04L59.74 167.34Z" fill="#A8A8A8" stroke="#A8A8A8" stroke-width="0.5"/>
<path d="M10.9 150.0Q9.6 335.0 117.8 185.0M10.9 150.0Q9.6 335.0 103.8 175.8M12.7 150.0Q9.6 335.0 117.8 185.0M12.7 150.0Q9.6 335.0 106.0 177.1M12.7 150.0Q9.6 335.0 115.7 183.5M14.4 150.1Q9.6 335.0 108.5 178.6M14.4 150.1Q9.6 335.0 117.8 185.0M14.4 150.1Q9.6 335.0 106.0 177.1M16.2 150.1Q9.6 335.0 106.0 177.1M16.2 150.1Q9.6 335.0 115.7 183.5M16.2 150.1Q9.6 335.0 117.8 185.0M18.0 150.2Q9.6 335.0 108.5 178.6M18.0 150.2Q9.6 335.0 103.8 175.8M18.0 150.2Q9.6 335.0 117.8 185.0M18.0 150.2Q9.6 335.0 110.9 180.2M18.0 150.2Q9.6 335.0 115.7 183.5M19.8 150.3Q9.6 335.0 108.5 178.6M19.8 150.3Q9.6 335.0 103.8 175.8M19.8 150.3Q9.6 335.0 117.8 185.0M21.5 150.4Q9.6 335.0 117.8 185.0M21.5 150.4Q9.6 335.0 113.3 181.8M21.5 150.4Q9.6 335.0 115.7 183.5M21.5 150.4Q9.6 335.0 103.8 175.8M23.3 150.5Q9.6 335.0 103.8 175.8M23.3 150.5Q9.6 335.0 108.5 178.6M23.3 150.5Q9.6 335.0 115.7 183.5M23.3 150.5Q9.6 335.0 113.3 181.8M25.1 150.6Q9.6 335.0 115.7 183.5M25.1 150.6Q9.6 335.0 108.5 178.6M25.1 150.6Q9.6 335.0 106.0 177.1M25.1 150.6Q9.6 335.0 110.9 180.2M25.1 150.6Q9.6 335.0 113.3 181.8M28.6 151.0Q9.6 335.0 103.8 175.8M28.6 151.0Q9.6 335.0 108.5 178.6M28.6 151.0Q9.6 335.0 117.8 185.0M32.1 151.4Q9.6 335.0 117.8 185.0M32.1 151.4Q9.6 335.0 110.9 180.2M32.1 151.4Q9.6 335.0 103.8 175.8M32.1 151.4Q9.6 335.0 115.7 183.5M33.9 151.6Q9.6 335.0 110.9 180.2M33.9 151.6Q9.6 335.0 113.3 181.8M33.9 151.6Q9.6 335.0 103.8 175.8M33.9 151.6Q9.6 335.0 117.8 185.0M35.7 151.8Q9.6 335.0 115.7 183.5M35.7 151.8Q9.6 335.0 106.0 177.1M37.4 152.1Q9.6 335.0 103.8 175.8M37.4 152.1Q9.6 335.0 106.0 177.1M37.4 152.1Q9.6 335.0 110.9 180.2M39.2 152.4Q9.6 335.0 113.3 181.8M39.2 152.4Q9.6 335.0 108.5 178.6M39.2 152.4Q9.6 335.0 117.8 185.0M39.2 152.4Q9.6 335.0 115.7 183.5M40.9 152.7Q9.6 335.0 103.8 175.8M40.9 152.7Q9.6 335.0 113.3 181.8M40.9 152.7Q9.6 335.0 108.5 178.6M40.9 152.7Q9.6 335.0 115.7 183.5M40.9 152.7Q9.6 335.0 117.8 185.0M44.4 153.3Q9.6 335.0 103.8 175.8M44.4 153.3Q9.6 335.0 106.0 177.1M44.4 153.3Q9.6 335.0 108.5 178.6M44.4 153.3Q9.6 335.0 113.3 181.8M44.4 153.3Q9.6 335.0 117.8 185.0M46.2 153.6Q9.6 335.0 108.5 178.6M46.2 153.6Q9.6 335.0 115.7 183.5M46.2 153.6Q9.6 335.0 113.3 181.8M46.2 153.6Q9.6 335.0 103.8 175.8M47.9 154.0Q9.6 335.0 115.7 183.5M47.9 154.0Q9.6 335.0 108.5 178.6M47.9 154.0Q9.6 335.0 117.8 185.0M47.9 154.0Q9.6 335.0 106.0 177.1M49.6 154.4Q9.6 335.0 115.7 183.5M49.6 154.4Q9.6 335.0 106.0 177.1M51.4 154.8Q9.6 335.0 110.9 180.2M51.4 154.8Q9.6 335.0 106.0 177.1M51.4 154.8Q9.6 335.0 103.8 175.8M51.4 154.8Q9.6 335.0 113.3 181.8M53.1 155.2Q9.6 335.0 103.8 175.8M53.1 155.2Q9.6 335.0 106.0 177.1M53.1 155.2Q9.6 335.0 113.3 181.8M53.1 155.2Q9.6 335.0 108.5 178.6M53.1 155.2Q9.6 335.0 115.7 183.5M56.5 156.1Q9.6 335.0 115.7 183.5M56.5 156.1Q9.6 335.0 110.9 180.2M56.5 156.1Q9.6 335.0 106.0 177.1M56.5 156.1Q9.6 335.0 103.8 175.8M56.5 156.1Q9.6 335.0 108.5 178.6M61.7 157.5Q9.6 335.0 117.8 185.0M61.7 157.5Q9.6 335.0 110.9 180.2M63.4 158.0Q9.6 335.0 117.8 185.0M63.4 158.0Q9.6 335.0 106.0 177.1M63.4 158.0Q9.6 335.0 115.7 183.5M63.4 158.0Q9.6 335.0 113.3 181.8M68.5 159.6Q9.6 335.0 103.8 175.8M68.5 159.6Q9.6 335.0 106.0 177.1M68.5 159.6Q9.6 335.0 110.9 180.2M68.5 159.6Q9.6 335.0 108.5 178.6M68.5 159.6Q9.6 335.0 117.8 185.0M70.1 160.2Q9.6 335.0 117.8 185.0M70.1 160.2Q9.6 335.0 110.9 180.2M71.8 160.8Q9.6 335.0 106.0 177.1M71.8 160.8Q9.6 335.0 110.9 180.2M71.8 160.8Q9.6 335.0 113.3 181.8M71.8 160.8Q9.6 335.0 117.8 185.0M73.5 161.4Q9.6 335.0 110.9 180.2M73.5 161.4Q9.6 335.0 115.7 183.5M73.5 161.4Q9.6 335.0 108.5 178.6M73.5 161.4Q9.6 335.0 117.8 185.0M73.5 161.4Q9.6 335.0 106.0 177.1M76.8 162.6Q9.6 335.0 110.9 180.2M76.8 162.6Q9.6 335.0 117.8 185.0M76.8 162.6Q9.6 335.0 106.0 177.1M76.8 162.6Q9.6 335.0 103.8 175.8M78.5 163.3Q9.6 335.0 117.8 185.0M78.5 163.3Q9.6 335.0 113.3 181.8M78.5 163.3Q9.6 335.0 106.0 177.1M78.5 163.3Q9.6 335.0 110.9 180.2M78.5 163.3Q9.6 335.0 115.7 183.5M81.7 164.6Q9.6 335.0 103.8 175.8M81.7 164.6Q9.6 335.0 110.9 180.2M81.7 164.6Q9.6 335.0 108.5 178.6M85.0 166.1Q9.6 335.0 103.8 175.8M85.0 166.1Q9.6 335.0 108.5 178.6M85.0 166.1Q9.6 335.0 113.3 181.8M85.0 166.1Q9.6 335.0 117.8 185.0M86.6 166.8Q9.6 335.0 108.5 178.6M86.6 166.8Q9.6 335.0 113.3 181.8M86.6 166.8Q9.6 335.0 117.8 185.0M86.6 166.8Q9.6 335.0 110.9 180.2M89.8 168.3Q9.6 335.0 117.8 185.0M89.8 168.3Q9.6 335.0 115.7 183.5M89.8 168.3Q9.6 335.0 108.5 178.6M89.8 168.3Q9.6 335.0 113.3 181.8M91.4 169.1Q9.6 335.0 113.3 181.8M91.4 169.1Q9.6 335.0 103.8 175.8M91.4 169.1Q9.6 335.0 110.9 180.2M93.0 169.9Q9.6 335.0 108.5 178.6M93.0 169.9Q9.6 335.0 115.7 183.5M93.0 169.9Q9.6 335.0 117.8 185.0M93.0 169.9Q9.6 335.0 110.9 180.2M97.7 172.3Q9.6 335.0 117.8 185.0M97.7 172.3Q9.6 335.0 113.3 181.8M97.7 172.3Q9.6 335.0 108.5 178.6M97.7 172.3Q9.6 335.0 115.7 183.5M10.9 150.0Q9.6 335.0 -8.6 150.9M10.9 150.0Q9.6 335.0 -22.8 152.9M12.7 150.0Q9.6 335.0 -6.8 150.7M12.7 150.0Q9.6 335.0 -47.4 159.0M12.7 150.0Q9.6 335.0 -2.5 150.4M16.2 150.1Q9.6 335.0 -16.5 151.8M16.2 150.1Q9.6 335.0 -28.3 153.9M16.2 150.1Q9.6 335.0 -3.9 150.5M19.8 150.3Q9.6 335.0 -1.7 150.3M19.8 150.3Q9.6 335.0 -32.1 154.8M19.8 150.3Q9.6 335.0 -46.8 158.8M23.3 150.5Q9.6 335.0 -0.8 150.3M25.1 150.6Q9.6 335.0 2.3 150.1M26.8 150.8Q9.6 335.0 -18.8 152.2M28.6 151.0Q9.6 335.0 6.6 150.0M28.6 151.0Q9.6 335.0 -17.9 152.0M28.6 151.0Q9.6 335.0 -13.0 151.4M32.1 151.4Q9.6 335.0 4.5 150.1M32.1 151.4Q9.6 335.0 -3.0 150.4M32.1 151.4Q9.6 335.0 -32.0 154.7M33.9 151.6Q9.6 335.0 8.6 150.0M33.9 151.6Q9.6 335.0 -14.5 151.6M37.4 152.1Q9.6 335.0 -39.7 156.7M37.4 152.1Q9.6 335.0 -40.3 156.8M39.2 152.4Q9.6 335.0 -38.3 156.3M39.2 152.4Q9.6 335.0 -12.7 151.3M39.2 152.4Q9.6 335.0 6.6 150.0M42.7 153.0Q9.6 335.0 -8.6 150.9M42.7 153.0Q9.6 335.0 -8.2 150.9M42.7 153.0Q9.6 335.0 -20.5 152.5M47.9 154.0Q9.6 335.0 -8.1 150.8M47.9 154.0Q9.6 335.0 -11.4 151.2M47.9 154.0Q9.6 335.0 1.3 150.2M56.5 156.1Q9.6 335.0 21.2 150.4M56.5 156.1Q9.6 335.0 25.1 150.6M56.5 156.1Q9.6 335.0 15.1 150.1M73.5 161.4Q9.6 335.0 21.2 150.4M81.7 164.6Q9.6 335.0 21.2 150.4M81.7 164.6Q9.6 335.0 25.1 150.6M70.1 160.2Q9.6 335.0 15.1 150.1M70.1 160.2Q9.6 335.0 18.0 150.2M51.4 154.8Q9.6 335.0 18.0 150.2M51.4 154.8Q9.6 335.0 21.2 150.4M51.4 154.8Q9.6 335.0 15.1 150.1M61.7 157.5Q9.6 335.0 12.2 150.0M61.7 157.5Q9.6 335.0 18.0 150.2M26.8 150.8Q9.6 335.0 21.2 150.4M26.8 150.8Q9.6 335.0 18.0 150.2M28.6 151.0Q9.6 335.0 21.2 150.4M76.8 162.6Q9.6 335.0 12.2 150.0M53.1 155.2Q9.6 335.0 25.1 150.6M53.1 155.2Q9.6 335.0 21.2 150.4M53.1 155.2Q9.6 335.0 12.2 150.0M89.8 168.3Q9.6 335.0 12.2 150.0M89.8 168.3Q9.6 335.0 15.1 150.1M63.4 158.0Q9.6 335.0 12.2 150.0M63.4 158.0Q9.6 335.0 21.2 150.4M32.1 151.4Q9.6 335.0 25.1 150.6M32.1 151.4Q9.6 335.0 18.0 150.2M32.1 151.4Q9.6 335.0 12.2 150.0M25.1 150.6Q9.6 335.0 12.2 150.0M25.1 150.6Q9.6 335.0 15.1 150.1M19.8 150.3Q9.6 335.0 18.0 150.2M19.8 150.3Q9.6 335.0 15.1 150.1M49.6 154.4Q9.6 335.0 18.0 150.2M49.6 154.4Q9.6 335.0 25.1 150.6M49.6 154.4Q9.6 335.0 15.1 150.1M10.9 150.0Q9.6 335.0 21.2 150.4M10.9 150.0Q9.6 335.0 12.2 150.0M10.9 150.0Q9.6 335.0 25.1 150.6M71.8 160.8Q9.6 335.0 18.0 150.2M16.2 150.1Q9.6 335.0 25.1 150.6M16.2 150.1Q9.6 335.0 18.0 150.2M80.1 164.0Q9.6 335.0 18.0 150.2M80.1 164.0Q9.6 335.0 12.2 150.0M80.1 164.0Q9.6 335.0 15.1 150.1M42.7 153.0Q9.6 335.0 18.0 150.2M42.7 153.0Q9.6 335.0 15.1 150.1M44.4 153.3Q9.6 335.0 12.2 150.0M40.9 152.7Q9.6 335.0 25.1 150.6M40.9 152.7Q9.6 335.0 21.2 150.4M18.0 150.2Q9.6 335.0 12.2 150.0M18.0 150.2Q9.6 335.0 15.1 150.1M18.0 150.2Q9.6 335.0 25.1 150.6M60.0 157.0Q9.6 335.0 21.2 150.4M60.0 157.0Q9.6 335.0 25.1 150.6M46.2 153.6Q9.6 335.0 21.2 150.4M46.2 153.6Q9.6 335.0 25.1 150.6M85.0 166.1Q9.6 335.0 143.6 207.4M89.8 168.3Q9.6 335.0 141.8 205.6M32.1 151.4Q9.6 335.0 141.8 205.6M42.7 153.0Q9.6 335.0 143.6 207.4M61.7 157.5Q9.6 335.0 145.1 209.1M18.0 150.2Q9.6 335.0 145.1 209.1M44.4 153.3Q9.6 335.0 143.6 207.4M10.9 150.0Q9.6 335.0 143.6 207.4M58.3 156.5Q9.6 335.0 145.1 209.1M75.1 162.0Q9.6 335.0 141.8 205.6M93.0 169.9Q9.6 335.0 143.6 207.4M63.4 158.0Q9.6 335.0 145.1 209.1" fill="none" stroke="#5DAEFF" stroke-width="0.65" stroke-opacity="0.75"/>
<path d="M122.3 481.7Q9.6 335.0 143.9 462.2M126.1 478.7Q9.6 335.0 166.4 433.2M116.6 486.0Q9.6 335.0 154.8 449.7M128.8 476.5Q9.6 335.0 152.8 452.1M128.1 477.1Q9.6 335.0 148.3 457.5M118.3 484.7Q9.6 335.0 137.6 468.6M115.8 486.5Q9.6 335.0 124.8 479.8M127.3 477.8Q9.6 335.0 141.2 465.0M128.8 476.4Q9.6 335.0 150.4 455.0M120.6 483.0Q9.6 335.0 127.9 477.2M121.9 482.0Q9.6 335.0 155.8 448.3M121.1 482.6Q9.6 335.0 165.5 434.5M120.2 483.3Q9.6 335.0 157.3 446.4M120.7 483.0Q9.6 335.0 130.7 474.8M125.7 479.0Q9.6 335.0 145.9 460.0M125.8 479.0Q9.6 335.0 122.5 481.6M126.7 478.2Q9.6 335.0 161.1 441.1M118.1 484.8Q9.6 335.0 134.4 471.6M118.5 484.6Q9.6 335.0 124.4 480.0M124.4 480.1Q9.6 335.0 167.6 431.2M125.1 479.5Q9.6 335.0 167.2 432.0M117.7 485.1Q9.6 335.0 154.0 450.7M124.4 480.1Q9.6 335.0 134.9 471.1M128.3 476.9Q9.6 335.0 150.9 454.4M124.5 480.0Q9.6 335.0 114.2 487.6M123.8 480.5Q9.6 335.0 118.3 484.7M128.6 476.6Q9.6 335.0 123.7 480.6M126.9 478.1Q9.6 335.0 126.0 478.8M118.1 484.9Q9.6 335.0 136.2 469.9M120.0 483.5Q9.6 335.0 126.0 478.8M119.7 483.7Q9.6 335.0 159.2 443.8M121.0 482.7Q9.6 335.0 126.3 478.6M176.8 414.1Q9.6 335.0 173.3 421.3M175.3 417.4Q9.6 335.0 174.1 419.6M175.4 417.1Q9.6 335.0 174.7 418.5M63.5 512.0Q9.6 335.0 57.6 513.7M66.6 511.0Q9.6 335.0 50.3 515.5M61.3 512.6Q9.6 335.0 53.3 514.8M62.6 512.3Q9.6 335.0 55.2 514.3M63.4 512.0Q9.6 335.0 47.3 516.1M64.4 511.7Q9.6 335.0 54.8 514.4M66.6 511.0Q9.6 335.0 54.4 514.5M68.9 510.2Q9.6 335.0 53.7 514.7M60.7 512.8Q9.6 335.0 51.0 515.3M60.4 512.9Q9.6 335.0 55.7 514.2M63.0 512.1Q9.6 335.0 49.4 515.7" fill="none" stroke="#5DAEFF" stroke-width="0.6" stroke-opacity="0.6"/>
<linearGradient id="olv" gradientUnits="userSpaceOnUse" x1="100" y1="175" x2="185" y2="345"><stop offset="0" stop-color="#CDB445"/><stop offset="0.45" stop-color="#D4B43A"/><stop offset="1" stop-color="#9FA65A"/></linearGradient>
<path d="M99.0 173.0Q9.6 335.0 193.6 353.9M100.1 173.6Q9.6 335.0 193.6 354.0M101.1 174.2Q9.6 335.0 193.6 354.2M102.2 174.8Q9.6 335.0 193.6 354.3M103.3 175.5Q9.6 335.0 193.6 354.5M104.3 176.1Q9.6 335.0 193.6 354.7M105.4 176.7Q9.6 335.0 193.5 354.8M106.4 177.4Q9.6 335.0 193.5 355.0" fill="none" stroke="url(#olv)" stroke-width="0.6" stroke-opacity="0.9"/>
</g>
<text x="27.6" y="613.3" font-size="8.25" fill="#555">Tree scale: 1</text>
<line x1="84.1" y1="610.5" x2="144.3" y2="610.5" stroke="#555" stroke-width="0.9"/>
<line x1="84.4" y1="607" x2="84.4" y2="614" stroke="#555" stroke-width="0.9"/>
<line x1="144" y1="607" x2="144" y2="614" stroke="#555" stroke-width="0.9"/>
<line x1="114.2" y1="610.5" x2="114.2" y2="612" stroke="#555" stroke-width="0.6"/>
<text x="43.3" y="668.8" font-size="7.5" fill="#111">Bacterial Phylum</text>
<line x1="41.8" y1="672.6" x2="120.2" y2="672.6" stroke="#222" stroke-width="0.8"/>
<rect x="43.6" y="676.30" width="9.8" height="9.8" fill="#4499FF" stroke="#333" stroke-width="0.7"/>
<text x="58.5" y="683.50" font-size="7.45" fill="#111">Bacillota</text>
<rect x="43.6" y="691.33" width="9.8" height="9.8" fill="#4DF04D" stroke="#333" stroke-width="0.7"/>
<text x="58.5" y="698.53" font-size="7.45" fill="#111">Actinomycetota</text>
<rect x="43.6" y="706.36" width="9.8" height="9.8" fill="#FFAA5E" stroke="#333" stroke-width="0.7"/>
<text x="58.5" y="713.56" font-size="7.45" fill="#111">Pseudomonadota</text>
<rect x="43.6" y="721.39" width="9.8" height="9.8" fill="#FF55AA" stroke="#333" stroke-width="0.7"/>
<text x="58.5" y="728.59" font-size="7.45" fill="#111">Bacteroidota</text>
<rect x="43.6" y="736.42" width="9.8" height="9.8" fill="#CC99CC" stroke="#333" stroke-width="0.7"/>
<text x="58.5" y="743.62" font-size="7.45" fill="#111">Fusobacteriota</text>
<rect x="43.6" y="751.45" width="9.8" height="9.8" fill="#CCCC99" stroke="#333" stroke-width="0.7"/>
<text x="58.5" y="758.65" font-size="7.45" fill="#111">Campylobacterota</text>
<rect x="43.6" y="766.48" width="9.8" height="9.8" fill="#3F7F77" stroke="#333" stroke-width="0.7"/>
<text x="58.5" y="773.68" font-size="7.45" fill="#111">Patescibacteria_TM7</text>
<rect x="43.6" y="781.51" width="9.8" height="9.8" fill="#9DD0D0" stroke="#333" stroke-width="0.7"/>
<text x="58.5" y="788.71" font-size="7.45" fill="#111">Synergistota</text>
<rect x="43.6" y="796.54" width="9.8" height="9.8" fill="#5555AA" stroke="#333" stroke-width="0.7"/>
<text x="58.5" y="803.74" font-size="7.45" fill="#111">Spirochaetota</text>
<rect x="43.6" y="811.57" width="9.8" height="9.8" fill="#D5D8EE" stroke="#333" stroke-width="0.7"/>
<text x="58.5" y="818.77" font-size="7.45" fill="#111">Desulfobacteriota</text>
<rect x="43.6" y="826.60" width="9.8" height="9.8" fill="#BB77BB" stroke="#333" stroke-width="0.7"/>
<text x="58.5" y="833.80" font-size="7.45" fill="#111">Chloroflexota</text>
<rect x="436.1" y="2.10" width="205.70" height="9.5" fill="#F3A75F"/>
<text x="433.4" y="9.55" text-anchor="end" font-style="italic" font-size="7.7" fill="#1a1a1a">Neisseria flavescens</text>
<rect x="436.1" y="13.67" width="166.60" height="9.5" fill="#F3A75F"/>
<text x="433.4" y="21.12" text-anchor="end" font-style="italic" font-size="7.7" fill="#1a1a1a">Neisseria sicca</text>
<rect x="436.1" y="25.24" width="153.90" height="9.5" fill="#4F93D1"/>
<text x="433.4" y="32.69" text-anchor="end" font-style="italic" font-size="7.7" fill="#1a1a1a">Streptococcus oralis</text>
<rect x="436.1" y="36.81" width="121.20" height="9.5" fill="#4F93D1"/>
<text x="433.4" y="44.26" text-anchor="end" font-style="italic" font-size="7.7" fill="#1a1a1a">Streptococcus mitis</text>
<rect x="436.1" y="48.38" width="110.20" height="9.5" fill="#F3A75F"/>
<text x="433.4" y="55.83" text-anchor="end" font-style="italic" font-size="7.7" fill="#1a1a1a">Neisseria subflava</text>
<rect x="436.1" y="59.95" width="76.80" height="9.5" fill="#4F93D1"/>
<text x="433.4" y="67.40" text-anchor="end" font-style="italic" font-size="7.7" fill="#1a1a1a">Streptococcus sanguinis</text>
<rect x="436.1" y="71.52" width="41.00" height="9.5" fill="#E45E9D"/>
<text x="433.4" y="78.97" text-anchor="end" font-style="italic" font-size="7.7" fill="#1a1a1a">Prevotella sp000257925</text>
<rect x="436.1" y="83.09" width="39.80" height="9.5" fill="#E45E9D"/>
<text x="433.4" y="90.54" text-anchor="end" font-style="italic" font-size="7.7" fill="#1a1a1a">Prevotella fusca</text>
<rect x="436.1" y="94.66" width="39.50" height="9.5" fill="#4F93D1"/>
<text x="433.4" y="102.11" text-anchor="end" font-style="italic" font-size="7.7" fill="#1a1a1a">Streptococcus salivarius</text>
<rect x="436.1" y="106.23" width="38.40" height="9.5" fill="#4F93D1"/>
<text x="433.4" y="113.68" text-anchor="end" font-style="italic" font-size="7.7" fill="#1a1a1a">Streptococcus mutans</text>
<rect x="436.1" y="117.80" width="38.40" height="9.5" fill="#7BBE54"/>
<text x="433.4" y="125.25" text-anchor="end" font-style="italic" font-size="7.7" fill="#1a1a1a">Pauljensenia sp001064145</text>
<rect x="436.1" y="129.37" width="37.10" height="9.5" fill="#4F93D1"/>
<text x="433.4" y="136.82" text-anchor="end" font-style="italic" font-size="7.7" fill="#1a1a1a">Streptococcus halitosis</text>
<rect x="436.1" y="140.94" width="35.20" height="9.5" fill="#4F93D1"/>
<text x="433.4" y="148.39" text-anchor="end" font-style="italic" font-size="7.7" fill="#1a1a1a">Streptococcus pseudopneumoniae</text>
<rect x="436.1" y="152.51" width="32.80" height="9.5" fill="#4F93D1"/>
<text x="433.4" y="159.96" text-anchor="end" font-style="italic" font-size="7.7" fill="#1a1a1a">Streptococcus constellatus</text>
<rect x="436.1" y="164.08" width="31.00" height="9.5" fill="#7BBE54"/>
<text x="433.4" y="171.53" text-anchor="end" font-style="italic" font-size="7.7" fill="#1a1a1a">Pauljensenia sp902373545</text>
<rect x="436.1" y="175.65" width="28.80" height="9.5" fill="#F3A75F"/>
<text x="433.4" y="183.10" text-anchor="end" font-style="italic" font-size="7.7" fill="#1a1a1a">Neisseria sp000090875</text>
<rect x="436.1" y="187.22" width="24.70" height="9.5" fill="#4F93D1"/>
<text x="433.4" y="194.67" text-anchor="end" font-style="italic" font-size="7.7" fill="#1a1a1a">Streptococcus gordonii</text>
<rect x="436.1" y="198.79" width="24.00" height="9.5" fill="#4F93D1"/>
<text x="433.4" y="206.24" text-anchor="end" font-style="italic" font-size="7.7" fill="#1a1a1a">Streptococcus cristatus</text>
<rect x="436.1" y="210.36" width="23.70" height="9.5" fill="#F3A75F"/>
<text x="433.4" y="217.81" text-anchor="end" font-style="italic" font-size="7.7" fill="#1a1a1a">Neisseria mucosa</text>
<rect x="436.1" y="221.93" width="21.90" height="9.5" fill="#E45E9D"/>
<text x="433.4" y="229.38" text-anchor="end" font-style="italic" font-size="7.7" fill="#1a1a1a">Prevotella intermedia</text>
<line x1="435.6" y1="232.5" x2="650.1" y2="232.5" stroke="#000" stroke-width="1.1"/>
<line x1="436.10" y1="232.5" x2="436.10" y2="235.3" stroke="#000" stroke-width="0.9"/>
<text x="436.10" y="243.6" text-anchor="middle" font-size="7.4" fill="#222">0</text>
<line x1="489.48" y1="232.5" x2="489.48" y2="235.3" stroke="#000" stroke-width="0.9"/>
<text x="489.48" y="243.6" text-anchor="middle" font-size="7.4" fill="#222">200</text>
<line x1="542.86" y1="232.5" x2="542.86" y2="235.3" stroke="#000" stroke-width="0.9"/>
<text x="542.86" y="243.6" text-anchor="middle" font-size="7.4" fill="#222">400</text>
<line x1="596.24" y1="232.5" x2="596.24" y2="235.3" stroke="#000" stroke-width="0.9"/>
<text x="596.24" y="243.6" text-anchor="middle" font-size="7.4" fill="#222">600</text>
<line x1="649.62" y1="232.5" x2="649.62" y2="235.3" stroke="#000" stroke-width="0.9"/>
<text x="649.62" y="243.6" text-anchor="middle" font-size="7.4" fill="#222">800</text>
<text x="547.9" y="254.2" text-anchor="middle" font-size="9.8" fill="#111">subVC count</text>
<circle cx="481.5" cy="408" r="89" fill="#5AAEDC"/>
<ellipse cx="451.48" cy="407.63" rx="75.77" ry="64.3" transform="rotate(89.4 451.48 407.63)" fill="#F0CB79"/>
<ellipse cx="468.89" cy="407.71" rx="81.8" ry="77.5" transform="rotate(-88.3 468.89 407.71)" fill="#4DAE8C"/>
<ellipse cx="467.62" cy="419.55" rx="69.83" ry="69.15" transform="rotate(33 467.62 419.55)" fill="#BC96C2"/>
<path d="M389.2 383.3 A80 80 0 0 0 389.2 430 A80 80 0 0 0 389.2 383.3 Z" fill="#D8604E"/>
<line x1="388.8" y1="341" x2="388.8" y2="386" stroke="#D8604E" stroke-width="1"/>
<line x1="392.8" y1="437" x2="392.8" y2="495" stroke="#F0CB79" stroke-width="1"/>
<line x1="457.3" y1="486" x2="457.3" y2="511.5" stroke="#BC96C2" stroke-width="1"/>
<line x1="563.2" y1="446" x2="563.2" y2="490" stroke="#5AAEDC" stroke-width="1"/>
<line x1="509.7" y1="310" x2="509.7" y2="335" stroke="#4DAE8C" stroke-width="1"/>
<text x="503.7" y="297.4" text-anchor="middle" font-size="9.15" fill="#1a1a1a">Shared by OPD and Oral Bacteria not AMGs</text>
<text x="508.2" y="307.4" text-anchor="middle" font-size="9.15" fill="#1a1a1a">(91)</text>
<text x="387.8" y="327.4" text-anchor="middle" font-size="9.15" fill="#1a1a1a">OPD Unique not AMGs</text>
<text x="387.5" y="337.4" text-anchor="middle" font-size="9.15" fill="#1a1a1a">(15)</text>
<text x="391.5" y="504.0" text-anchor="middle" font-size="9.15" fill="#1a1a1a">OPD Unique AMGs</text>
<text x="395.0" y="514.0" text-anchor="middle" font-size="9.15" fill="#1a1a1a">(31)</text>
<text x="458.7" y="522.5" text-anchor="middle" font-size="9.15" fill="#1a1a1a">Shared by OPD and Oral Bacteria AMGs</text>
<text x="414.7" y="532.5" text-anchor="middle" font-size="9.15" fill="#1a1a1a">(992)</text>
<text x="522.4" y="499.8" text-anchor="start" font-size="9.15" fill="#1a1a1a">Oral Bacteria Unique</text>
<text x="565.7" y="509.8" text-anchor="middle" font-size="9.15" fill="#1a1a1a">(293)</text>
<rect x="255.0" y="568.3" width="324.0" height="232.70000000000005" fill="#fff"/>
<line x1="255.0" y1="595.15" x2="579.0" y2="595.15" stroke="#F4F4F4" stroke-width="0.55"/>
<line x1="255.0" y1="672.25" x2="579.0" y2="672.25" stroke="#F4F4F4" stroke-width="0.55"/>
<line x1="255.0" y1="749.35" x2="579.0" y2="749.35" stroke="#F4F4F4" stroke-width="0.55"/>
<line x1="255.0" y1="633.70" x2="579.0" y2="633.70" stroke="#EBEBEB" stroke-width="1"/>
<line x1="255.0" y1="710.80" x2="579.0" y2="710.80" stroke="#EBEBEB" stroke-width="1"/>
<line x1="255.0" y1="787.90" x2="579.0" y2="787.90" stroke="#EBEBEB" stroke-width="1"/>
<line x1="262.71" y1="568.3" x2="262.71" y2="801.0" stroke="#EBEBEB" stroke-width="1"/>
<line x1="275.57" y1="568.3" x2="275.57" y2="801.0" stroke="#EBEBEB" stroke-width="1"/>
<line x1="288.43" y1="568.3" x2="288.43" y2="801.0" stroke="#EBEBEB" stroke-width="1"/>
<line x1="301.29" y1="568.3" x2="301.29" y2="801.0" stroke="#EBEBEB" stroke-width="1"/>
<line x1="314.14" y1="568.3" x2="314.14" y2="801.0" stroke="#EBEBEB" stroke-width="1"/>
<line x1="327.00" y1="568.3" x2="327.00" y2="801.0" stroke="#EBEBEB" stroke-width="1"/>
<line x1="339.86" y1="568.3" x2="339.86" y2="801.0" stroke="#EBEBEB" stroke-width="1"/>
<line x1="352.71" y1="568.3" x2="352.71" y2="801.0" stroke="#EBEBEB" stroke-width="1"/>
<line x1="365.57" y1="568.3" x2="365.57" y2="801.0" stroke="#EBEBEB" stroke-width="1"/>
<line x1="378.43" y1="568.3" x2="378.43" y2="801.0" stroke="#EBEBEB" stroke-width="1"/>
<line x1="391.28" y1="568.3" x2="391.28" y2="801.0" stroke="#EBEBEB" stroke-width="1"/>
<line x1="404.14" y1="568.3" x2="404.14" y2="801.0" stroke="#EBEBEB" stroke-width="1"/>
<line x1="417.00" y1="568.3" x2="417.00" y2="801.0" stroke="#EBEBEB" stroke-width="1"/>
<line x1="429.86" y1="568.3" x2="429.86" y2="801.0" stroke="#EBEBEB" stroke-width="1"/>
<line x1="442.71" y1="568.3" x2="442.71" y2="801.0" stroke="#EBEBEB" stroke-width="1"/>
<line x1="455.57" y1="568.3" x2="455.57" y2="801.0" stroke="#EBEBEB" stroke-width="1"/>
<line x1="468.43" y1="568.3" x2="468.43" y2="801.0" stroke="#EBEBEB" stroke-width="1"/>
<line x1="481.28" y1="568.3" x2="481.28" y2="801.0" stroke="#EBEBEB" stroke-width="1"/>
<line x1="494.14" y1="568.3" x2="494.14" y2="801.0" stroke="#EBEBEB" stroke-width="1"/>
<line x1="507.00" y1="568.3" x2="507.00" y2="801.0" stroke="#EBEBEB" stroke-width="1"/>
<line x1="519.85" y1="568.3" x2="519.85" y2="801.0" stroke="#EBEBEB" stroke-width="1"/>
<line x1="532.71" y1="568.3" x2="532.71" y2="801.0" stroke="#EBEBEB" stroke-width="1"/>
<line x1="545.57" y1="568.3" x2="545.57" y2="801.0" stroke="#EBEBEB" stroke-width="1"/>
<line x1="558.43" y1="568.3" x2="558.43" y2="801.0" stroke="#EBEBEB" stroke-width="1"/>
<line x1="571.28" y1="568.3" x2="571.28" y2="801.0" stroke="#EBEBEB" stroke-width="1"/>
<rect x="256.91" y="578.80" width="11.6" height="132.00" fill="#A287B7"/>
<rect x="256.91" y="710.80" width="11.6" height="79.40" fill="#72B073"/>
<text x="262.71" y="578.47" text-anchor="middle" font-size="7.9" fill="#000">***</text>
<rect x="269.77" y="652.70" width="11.6" height="58.10" fill="#A287B7"/>
<rect x="269.77" y="710.80" width="11.6" height="29.80" fill="#72B073"/>
<text x="275.57" y="652.37" text-anchor="middle" font-size="7.9" fill="#000">***</text>
<rect x="282.63" y="661.50" width="11.6" height="49.30" fill="#A287B7"/>
<rect x="282.63" y="710.80" width="11.6" height="33.90" fill="#72B073"/>
<text x="288.43" y="661.17" text-anchor="middle" font-size="7.9" fill="#000">***</text>
<rect x="295.49" y="704.70" width="11.6" height="6.10" fill="#A287B7"/>
<rect x="295.49" y="710.80" width="11.6" height="56.60" fill="#72B073"/>
<text x="301.29" y="775.87" text-anchor="middle" font-size="7.9" fill="#000">***</text>
<rect x="308.34" y="682.20" width="11.6" height="28.60" fill="#A287B7"/>
<rect x="308.34" y="710.80" width="11.6" height="24.50" fill="#72B073"/>
<rect x="321.20" y="689.20" width="11.6" height="21.60" fill="#A287B7"/>
<rect x="321.20" y="710.80" width="11.6" height="17.80" fill="#72B073"/>
<rect x="334.06" y="688.00" width="11.6" height="22.80" fill="#A287B7"/>
<rect x="334.06" y="710.80" width="11.6" height="12.20" fill="#72B073"/>
<text x="339.86" y="687.67" text-anchor="middle" font-size="7.9" fill="#000">***</text>
<rect x="346.91" y="686.90" width="11.6" height="23.90" fill="#A287B7"/>
<rect x="346.91" y="710.80" width="11.6" height="10.80" fill="#72B073"/>
<text x="352.71" y="686.57" text-anchor="middle" font-size="7.9" fill="#000">***</text>
<rect x="359.77" y="710.80" width="11.6" height="26.90" fill="#72B073"/>
<text x="365.57" y="746.17" text-anchor="middle" font-size="7.9" fill="#000">***</text>
<rect x="372.63" y="697.40" width="11.6" height="13.40" fill="#A287B7"/>
<rect x="372.63" y="710.80" width="11.6" height="9.90" fill="#72B073"/>
<rect x="385.48" y="697.40" width="11.6" height="13.40" fill="#A287B7"/>
<rect x="385.48" y="710.80" width="11.6" height="7.90" fill="#72B073"/>
<text x="391.28" y="697.07" text-anchor="middle" font-size="7.9" fill="#000">***</text>
<rect x="398.34" y="697.20" width="11.6" height="13.60" fill="#A287B7"/>
<rect x="398.34" y="710.80" width="11.6" height="6.30" fill="#72B073"/>
<text x="404.14" y="696.87" text-anchor="middle" font-size="7.9" fill="#000">***</text>
<rect x="411.20" y="695.60" width="11.6" height="15.20" fill="#A287B7"/>
<rect x="411.20" y="710.80" width="11.6" height="4.70" fill="#72B073"/>
<text x="417.00" y="695.27" text-anchor="middle" font-size="7.9" fill="#000">***</text>
<rect x="424.06" y="698.80" width="11.6" height="12.00" fill="#A287B7"/>
<rect x="424.06" y="710.80" width="11.6" height="6.30" fill="#72B073"/>
<text x="429.86" y="698.47" text-anchor="middle" font-size="7.9" fill="#000">***</text>
<rect x="436.91" y="707.70" width="11.6" height="3.10" fill="#A287B7"/>
<rect x="436.91" y="710.80" width="11.6" height="14.10" fill="#72B073"/>
<text x="442.71" y="733.37" text-anchor="middle" font-size="7.9" fill="#000">***</text>
<rect x="449.77" y="702.40" width="11.6" height="8.40" fill="#A287B7"/>
<rect x="449.77" y="710.80" width="11.6" height="7.70" fill="#72B073"/>
<rect x="462.63" y="698.80" width="11.6" height="12.00" fill="#A287B7"/>
<rect x="462.63" y="710.80" width="11.6" height="2.70" fill="#72B073"/>
<text x="468.43" y="698.47" text-anchor="middle" font-size="7.9" fill="#000">***</text>
<rect x="475.48" y="700.20" width="11.6" height="10.60" fill="#A287B7"/>
<rect x="475.48" y="710.80" width="11.6" height="2.70" fill="#72B073"/>
<text x="481.28" y="699.87" text-anchor="middle" font-size="7.9" fill="#000">***</text>
<rect x="488.34" y="703.00" width="11.6" height="7.80" fill="#A287B7"/>
<rect x="488.34" y="710.80" width="11.6" height="5.20" fill="#72B073"/>
<rect x="501.20" y="701.90" width="11.6" height="8.90" fill="#A287B7"/>
<rect x="501.20" y="710.80" width="11.6" height="3.80" fill="#72B073"/>
<text x="507.00" y="701.57" text-anchor="middle" font-size="7.9" fill="#000">***</text>
<rect x="514.05" y="705.20" width="11.6" height="5.60" fill="#A287B7"/>
<rect x="514.05" y="710.80" width="11.6" height="6.60" fill="#72B073"/>
<rect x="526.91" y="704.40" width="11.6" height="6.40" fill="#A287B7"/>
<rect x="526.91" y="710.80" width="11.6" height="5.20" fill="#72B073"/>
<rect x="539.77" y="704.40" width="11.6" height="6.40" fill="#A287B7"/>
<rect x="539.77" y="710.80" width="11.6" height="5.20" fill="#72B073"/>
<rect x="552.63" y="704.10" width="11.6" height="6.70" fill="#A287B7"/>
<rect x="552.63" y="710.80" width="11.6" height="4.70" fill="#72B073"/>
<rect x="565.48" y="702.70" width="11.6" height="8.10" fill="#A287B7"/>
<rect x="565.48" y="710.80" width="11.6" height="0.80" fill="#72B073"/>
<text x="571.28" y="702.37" text-anchor="middle" font-size="7.9" fill="#000">***</text>
<rect x="255.0" y="568.3" width="324.0" height="232.70000000000005" fill="none" stroke="#555" stroke-width="1.1"/>
<line x1="252.3" y1="633.70" x2="255.0" y2="633.70" stroke="#444" stroke-width="0.9"/>
<text x="251.8" y="636.20" text-anchor="end" font-size="7" fill="#333">2000</text>
<line x1="252.3" y1="710.80" x2="255.0" y2="710.80" stroke="#444" stroke-width="0.9"/>
<text x="251.8" y="713.30" text-anchor="end" font-size="7" fill="#333">0</text>
<line x1="252.3" y1="787.90" x2="255.0" y2="787.90" stroke="#444" stroke-width="0.9"/>
<text x="251.8" y="790.40" text-anchor="end" font-size="7" fill="#333">−2000</text>
<line x1="262.71" y1="801.0" x2="262.71" y2="803.6" stroke="#444" stroke-width="0.9"/>
<text transform="translate(265.01,805.4) rotate(-45)" text-anchor="end" font-size="5.9" fill="#4D4D4D">Capsule</text>
<line x1="275.57" y1="801.0" x2="275.57" y2="803.6" stroke="#444" stroke-width="0.9"/>
<text transform="translate(277.87,805.4) rotate(-45)" text-anchor="end" font-size="5.9" fill="#4D4D4D">Lipopolysaccharide</text>
<line x1="288.43" y1="801.0" x2="288.43" y2="803.6" stroke="#444" stroke-width="0.9"/>
<text transform="translate(290.73,805.4) rotate(-45)" text-anchor="end" font-size="5.9" fill="#4D4D4D">Elongation Factor−Tu</text>
<line x1="301.29" y1="801.0" x2="301.29" y2="803.6" stroke="#444" stroke-width="0.9"/>
<text transform="translate(303.59,805.4) rotate(-45)" text-anchor="end" font-size="5.9" fill="#4D4D4D">Autotransporter Adhesin UpaG</text>
<line x1="314.14" y1="801.0" x2="314.14" y2="803.6" stroke="#444" stroke-width="0.9"/>
<text transform="translate(316.44,805.4) rotate(-45)" text-anchor="end" font-size="5.9" fill="#4D4D4D">Autolysin</text>
<line x1="327.00" y1="801.0" x2="327.00" y2="803.6" stroke="#444" stroke-width="0.9"/>
<text transform="translate(329.30,805.4) rotate(-45)" text-anchor="end" font-size="5.9" fill="#4D4D4D">Lipooligosaccharide</text>
<line x1="339.86" y1="801.0" x2="339.86" y2="803.6" stroke="#444" stroke-width="0.9"/>
<text transform="translate(342.16,805.4) rotate(-45)" text-anchor="end" font-size="5.9" fill="#4D4D4D">platelet−binding protein (PsbB)</text>
<line x1="352.71" y1="801.0" x2="352.71" y2="803.6" stroke="#444" stroke-width="0.9"/>
<text transform="translate(355.01,805.4) rotate(-45)" text-anchor="end" font-size="5.9" fill="#4D4D4D">Fibronectin−binding protein</text>
<line x1="365.57" y1="801.0" x2="365.57" y2="803.6" stroke="#444" stroke-width="0.9"/>
<text transform="translate(367.87,805.4) rotate(-45)" text-anchor="end" font-size="5.9" fill="#4D4D4D">Expressed outer membrane proteins</text>
<line x1="378.43" y1="801.0" x2="378.43" y2="803.6" stroke="#444" stroke-width="0.9"/>
<text transform="translate(380.73,805.4) rotate(-45)" text-anchor="end" font-size="5.9" fill="#4D4D4D">Type IV pili</text>
<line x1="391.28" y1="801.0" x2="391.28" y2="803.6" stroke="#444" stroke-width="0.9"/>
<text transform="translate(393.58,805.4) rotate(-45)" text-anchor="end" font-size="5.9" fill="#4D4D4D">Chaperonin GroEL</text>
<line x1="404.14" y1="801.0" x2="404.14" y2="803.6" stroke="#444" stroke-width="0.9"/>
<text transform="translate(406.44,805.4) rotate(-45)" text-anchor="end" font-size="5.9" fill="#4D4D4D">platelet−binding protein (PsbA)</text>
<line x1="417.00" y1="801.0" x2="417.00" y2="803.6" stroke="#444" stroke-width="0.9"/>
<text transform="translate(419.30,805.4) rotate(-45)" text-anchor="end" font-size="5.9" fill="#4D4D4D">type VI Secretion System (T6SS−II)</text>
<line x1="429.86" y1="801.0" x2="429.86" y2="803.6" stroke="#444" stroke-width="0.9"/>
<text transform="translate(432.16,805.4) rotate(-45)" text-anchor="end" font-size="5.9" fill="#4D4D4D">Heme biosynthesis</text>
<line x1="442.71" y1="801.0" x2="442.71" y2="803.6" stroke="#444" stroke-width="0.9"/>
<text transform="translate(445.01,805.4) rotate(-45)" text-anchor="end" font-size="5.9" fill="#4D4D4D">Streptococcal collagen−like proteins</text>
<line x1="455.57" y1="801.0" x2="455.57" y2="803.6" stroke="#444" stroke-width="0.9"/>
<text transform="translate(457.87,805.4) rotate(-45)" text-anchor="end" font-size="5.9" fill="#4D4D4D">SCI−I T6SS</text>
<line x1="468.43" y1="801.0" x2="468.43" y2="803.6" stroke="#444" stroke-width="0.9"/>
<text transform="translate(470.73,805.4) rotate(-45)" text-anchor="end" font-size="5.9" fill="#4D4D4D">Streptococcal enolase</text>
<line x1="481.28" y1="801.0" x2="481.28" y2="803.6" stroke="#444" stroke-width="0.9"/>
<text transform="translate(483.58,805.4) rotate(-45)" text-anchor="end" font-size="5.9" fill="#4D4D4D">Heat Shock Protein 70 (Hsp70)</text>
<line x1="494.14" y1="801.0" x2="494.14" y2="803.6" stroke="#444" stroke-width="0.9"/>
<text transform="translate(496.44,805.4) rotate(-45)" text-anchor="end" font-size="5.9" fill="#4D4D4D">GPL locus</text>
<line x1="507.00" y1="801.0" x2="507.00" y2="803.6" stroke="#444" stroke-width="0.9"/>
<text transform="translate(509.30,805.4) rotate(-45)" text-anchor="end" font-size="5.9" fill="#4D4D4D">Polymorphic membrane protein (PmpD)/pmp21</text>
<line x1="519.85" y1="801.0" x2="519.85" y2="803.6" stroke="#444" stroke-width="0.9"/>
<text transform="translate(522.15,805.4) rotate(-45)" text-anchor="end" font-size="5.9" fill="#4D4D4D">Type VI secretion system</text>
<line x1="532.71" y1="801.0" x2="532.71" y2="803.6" stroke="#444" stroke-width="0.9"/>
<text transform="translate(535.01,805.4) rotate(-45)" text-anchor="end" font-size="5.9" fill="#4D4D4D">GroEL(Hsp60)/Cpn60.2</text>
<line x1="545.57" y1="801.0" x2="545.57" y2="803.6" stroke="#444" stroke-width="0.9"/>
<text transform="translate(547.87,805.4) rotate(-45)" text-anchor="end" font-size="5.9" fill="#4D4D4D">type VI Secretion System (T6SS−I)</text>
<line x1="558.43" y1="801.0" x2="558.43" y2="803.6" stroke="#444" stroke-width="0.9"/>
<text transform="translate(560.73,805.4) rotate(-45)" text-anchor="end" font-size="5.9" fill="#4D4D4D">Heat Shock Protein 60 (Hsp60)</text>
<line x1="571.28" y1="801.0" x2="571.28" y2="803.6" stroke="#444" stroke-width="0.9"/>
<text transform="translate(573.58,805.4) rotate(-45)" text-anchor="end" font-size="5.9" fill="#4D4D4D">Pantothenate synthesis</text>
<text transform="translate(234.9,688.2) rotate(-90)" text-anchor="middle" font-size="11.4" fill="#111">Number of Genes</text>
<text x="584.8" y="596.5" font-size="11.3" fill="#111">Phage life style type</text>
<rect x="584.8" y="604.9" width="10.3" height="10.2" fill="#A287B7"/>
<text x="598.3" y="613.4" font-size="11.45" fill="#111">Lysogenic</text>
<rect x="584.8" y="622" width="10.3" height="10.0" fill="#72B073"/>
<text x="597.5" y="630.2" font-size="11.45" fill="#111">Lytic</text>
<text x="-0.8" y="7.9" font-size="11.4" font-weight="bold">A</text>
<text x="333.0" y="7.9" font-size="11.4" font-weight="bold">B</text>
<text x="332.8" y="291.9" font-size="11.4" font-weight="bold">C</text>
<text x="248.2" y="554.2" font-size="11.4" font-weight="bold">D</text>
</svg></body></html>
